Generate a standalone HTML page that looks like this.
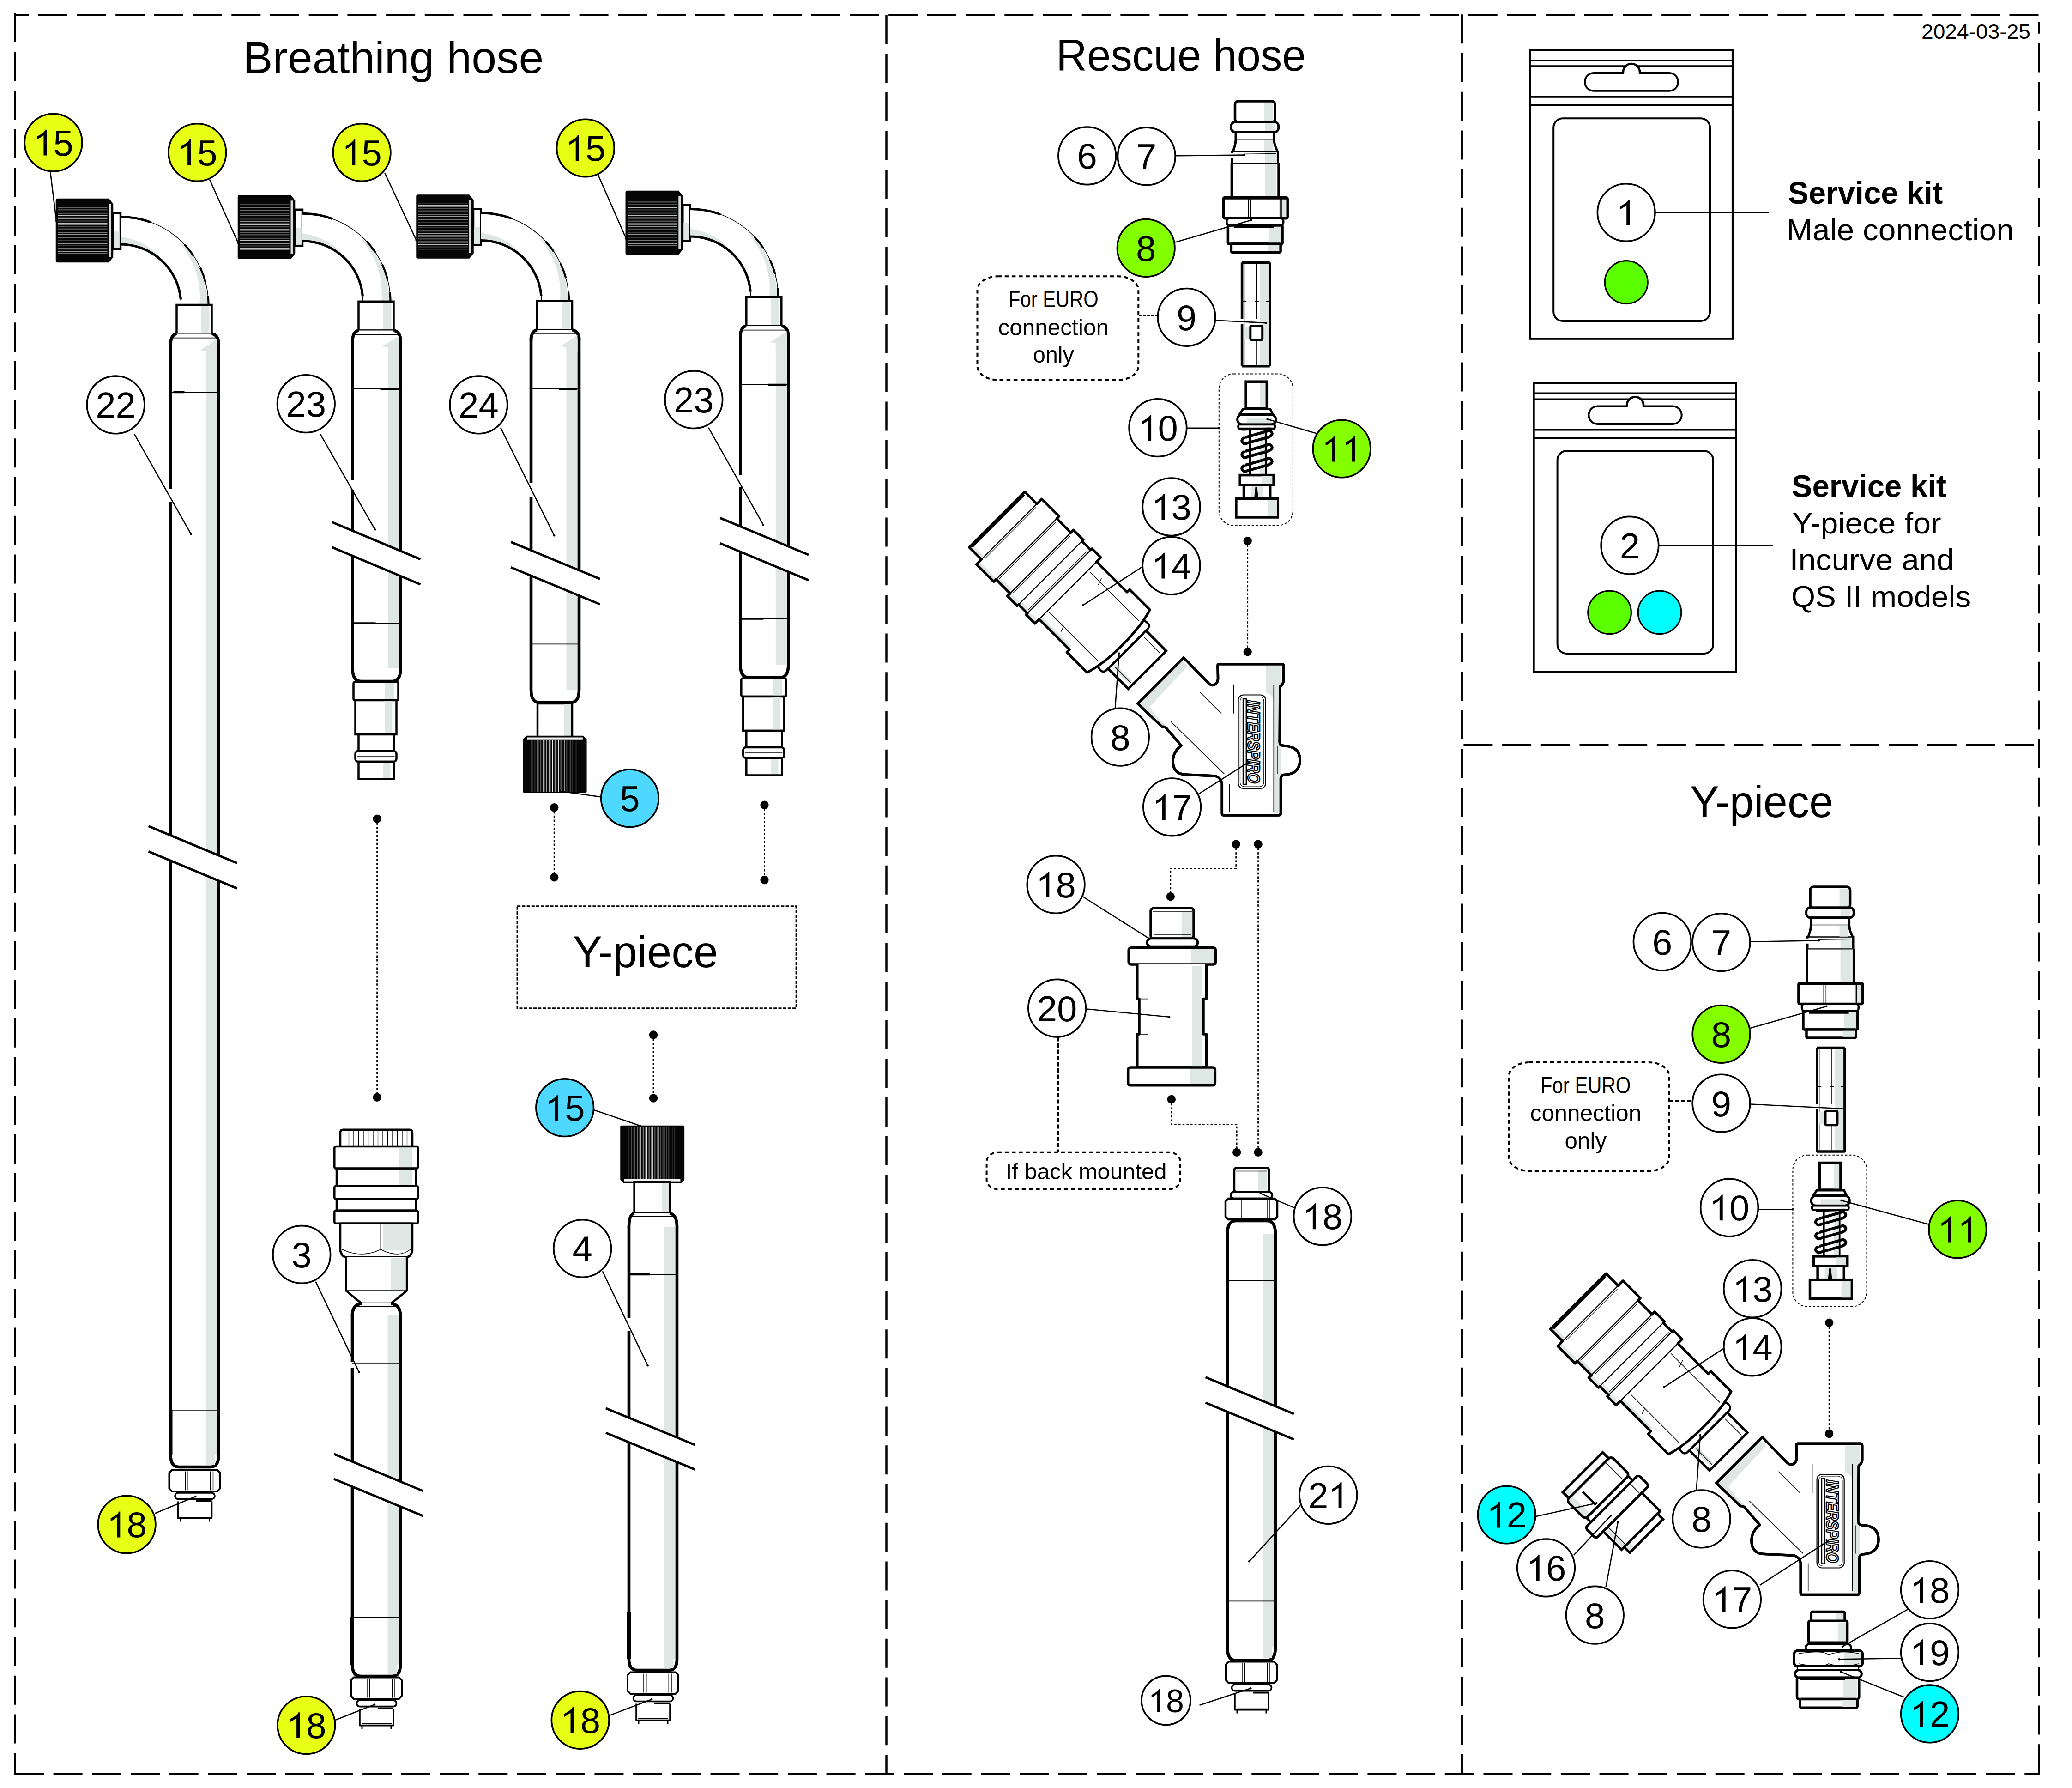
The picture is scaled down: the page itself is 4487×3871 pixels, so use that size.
<!DOCTYPE html>
<html><head><meta charset="utf-8"><style>
html,body{margin:0;padding:0;background:#fff;}
svg{display:block;}
text{font-family:"Liberation Sans",sans-serif;}
</style></head><body>
<svg xmlns="http://www.w3.org/2000/svg" width="4487" height="3871" viewBox="0 0 4487 3871">
<rect width="4487" height="3871" fill="#fff"/>
<line x1="32.3" y1="28.6" x2="32.3" y2="3842.5" stroke="#000" stroke-width="4.5" stroke-dasharray="63 20.7" stroke-dashoffset="0"/>
<line x1="30" y1="32.5" x2="4417.8" y2="32.5" stroke="#000" stroke-width="4.5" stroke-dasharray="63 20.7" stroke-dashoffset="30.9"/>
<line x1="4415.4" y1="47" x2="4415.4" y2="3842.5" stroke="#000" stroke-width="4.5" stroke-dasharray="63 20.7" stroke-dashoffset="37.2"/>
<line x1="30" y1="3840.3" x2="4417.8" y2="3840.3" stroke="#000" stroke-width="4.5" stroke-dasharray="63 20.7" stroke-dashoffset="-1.9"/>
<line x1="1919.5" y1="32.4" x2="1919.5" y2="3842.5" stroke="#000" stroke-width="4.5" stroke-dasharray="63 20.7" stroke-dashoffset="0"/>
<line x1="3165.7" y1="31.3" x2="3165.7" y2="3842.5" stroke="#000" stroke-width="4.5" stroke-dasharray="63 20.7" stroke-dashoffset="0"/>
<line x1="3169.4" y1="1613.1" x2="4405" y2="1613.1" stroke="#000" stroke-width="4.5" stroke-dasharray="63 20.7" stroke-dashoffset="0"/>
<text x="3872" y="440.7" font-size="67.6" text-anchor="start" font-weight="bold" font-family="Liberation Sans" textLength="335.2" lengthAdjust="spacingAndGlyphs" >Service kit</text>
<text x="3868.8" y="519.5" font-size="65" text-anchor="start" font-weight="normal" font-family="Liberation Sans" textLength="492.1" lengthAdjust="spacingAndGlyphs" >Male connection</text>
<text x="3879.8" y="1076.2" font-size="67.6" text-anchor="start" font-weight="bold" font-family="Liberation Sans" textLength="335.3" lengthAdjust="spacingAndGlyphs" >Service kit</text>
<text x="3880.8" y="1154.9" font-size="65" text-anchor="start" font-weight="normal" font-family="Liberation Sans" textLength="322.9" lengthAdjust="spacingAndGlyphs" >Y-piece for</text>
<text x="3875.5" y="1234.3" font-size="65" text-anchor="start" font-weight="normal" font-family="Liberation Sans" textLength="356.3" lengthAdjust="spacingAndGlyphs" >Incurve and</text>
<text x="3878.7" y="1314.3" font-size="65" text-anchor="start" font-weight="normal" font-family="Liberation Sans" textLength="389.6" lengthAdjust="spacingAndGlyphs" >QS II models</text>
<path d="M816.6 1772.6 L816.6 2375.8" fill="none" stroke="#000" stroke-width="2.8" stroke-dasharray="4.5 4.2"/>
<circle cx="816.6" cy="1772.6" r="9.2" fill="#000"/>
<circle cx="816.6" cy="2375.8" r="9.2" fill="#000"/>
<path d="M1200.2 1748.3 L1200.2 1899.3" fill="none" stroke="#000" stroke-width="2.8" stroke-dasharray="4.5 4.2"/>
<circle cx="1200.2" cy="1748.3" r="9.2" fill="#000"/>
<circle cx="1200.2" cy="1899.3" r="9.2" fill="#000"/>
<path d="M1655.5 1742.7 L1655.5 1905" fill="none" stroke="#000" stroke-width="2.8" stroke-dasharray="4.5 4.2"/>
<circle cx="1655.5" cy="1742.7" r="9.2" fill="#000"/>
<circle cx="1655.5" cy="1905" r="9.2" fill="#000"/>
<path d="M1415 2240.5 L1415 2377.5" fill="none" stroke="#000" stroke-width="2.8" stroke-dasharray="4.5 4.2"/>
<circle cx="1415" cy="2240.5" r="9.2" fill="#000"/>
<circle cx="1415" cy="2377.5" r="9.2" fill="#000"/>
<path d="M2701.7 1171.3 L2701.7 1411" fill="none" stroke="#000" stroke-width="2.8" stroke-dasharray="4.5 4.2"/>
<circle cx="2701.7" cy="1171.3" r="9.2" fill="#000"/>
<circle cx="2701.7" cy="1411" r="9.2" fill="#000"/>
<path d="M3961.2 2863.7 L3961.2 3104" fill="none" stroke="#000" stroke-width="2.8" stroke-dasharray="4.5 4.2"/>
<circle cx="3961.2" cy="2863.7" r="9.2" fill="#000"/>
<circle cx="3961.2" cy="3104" r="9.2" fill="#000"/>
<path d="M2676.7 1827.8 L2676.7 1880.7 L2534.8 1880.7 L2534.8 1941" fill="none" stroke="#000" stroke-width="2.8" stroke-dasharray="4.5 4.2"/>
<circle cx="2676.7" cy="1827.8" r="9.2" fill="#000"/>
<circle cx="2534.8" cy="1941" r="9.2" fill="#000"/>
<path d="M2724.6 1827.8 L2724.6 2494.8" fill="none" stroke="#000" stroke-width="2.8" stroke-dasharray="4.5 4.2"/>
<circle cx="2724.6" cy="1827.8" r="9.2" fill="#000"/>
<circle cx="2724.6" cy="2494.8" r="9.2" fill="#000"/>
<path d="M2536.8 2380 L2536.8 2434.4 L2678.2 2434.4 L2678.2 2494.8" fill="none" stroke="#000" stroke-width="2.8" stroke-dasharray="4.5 4.2"/>
<circle cx="2536.8" cy="2380" r="9.2" fill="#000"/>
<circle cx="2678.2" cy="2494.8" r="9.2" fill="#000"/>
<path d="M2466 682.6 L2508 682.6" fill="none" stroke="#000" stroke-width="2.8" stroke-dasharray="6 3"/>
<path d="M3615 2383.8 L3665 2383.8" fill="none" stroke="#000" stroke-width="4" stroke-dasharray="9 4"/>
<path d="M2291.6 2245.6 L2291.6 2494.8" fill="none" stroke="#000" stroke-width="3.8" stroke-dasharray="9 4.5"/>
<rect x="1120.2" y="1962" width="604.1" height="220.9" rx="0" fill="none" stroke="#000" stroke-width="3.3" stroke-dasharray="7 3.2"/>
<rect x="2116.5" y="598.3" width="348.8" height="224.2" rx="44" fill="none" stroke="#000" stroke-width="4" ry="30" stroke-dasharray="8.5 6.7"/>
<rect x="3267.4" y="2300" width="347.5" height="235.2" rx="44" fill="none" stroke="#000" stroke-width="4" ry="30" stroke-dasharray="8.5 6.7"/>
<rect x="2136.6" y="2494.8" width="419.3" height="79.6" rx="24" fill="none" stroke="#000" stroke-width="4" ry="20" stroke-dasharray="8.5 6.7"/>
<rect x="2639.8" y="809.4" width="160.1" height="328.2" rx="32" fill="none" stroke="#000" stroke-width="2" stroke-dasharray="5 4"/>
<rect x="3882.4" y="2500.7" width="160.1" height="328.2" rx="32" fill="none" stroke="#000" stroke-width="2" stroke-dasharray="5 4"/>
<text x="526" y="158" font-size="97" text-anchor="start" font-weight="normal" font-family="Liberation Sans" textLength="651.3" lengthAdjust="spacingAndGlyphs" >Breathing hose</text>
<text x="2287" y="152.6" font-size="97" text-anchor="start" font-weight="normal" font-family="Liberation Sans" textLength="541" lengthAdjust="spacingAndGlyphs" >Rescue hose</text>
<text x="1240.5" y="2094" font-size="97" text-anchor="start" font-weight="normal" font-family="Liberation Sans" textLength="314.4" lengthAdjust="spacingAndGlyphs" >Y-piece</text>
<text x="3660" y="1769" font-size="97" text-anchor="start" font-weight="normal" font-family="Liberation Sans" textLength="310.2" lengthAdjust="spacingAndGlyphs" >Y-piece</text>
<text x="4161" y="83.9" font-size="45" text-anchor="start" font-weight="normal" font-family="Liberation Sans" textLength="236" lengthAdjust="spacingAndGlyphs" >2024-03-25</text>
<text x="2184.1" y="665.2" font-size="50" text-anchor="start" font-weight="normal" font-family="Liberation Sans" textLength="194.6" lengthAdjust="spacingAndGlyphs" >For EURO</text>
<text x="2161.4" y="725.7" font-size="50" text-anchor="start" font-weight="normal" font-family="Liberation Sans" textLength="239.6" lengthAdjust="spacingAndGlyphs" >connection</text>
<text x="2237" y="785.3" font-size="50" text-anchor="start" font-weight="normal" font-family="Liberation Sans" textLength="88.8" lengthAdjust="spacingAndGlyphs" >only</text>
<text x="3336" y="2367.3" font-size="50" text-anchor="start" font-weight="normal" font-family="Liberation Sans" textLength="195.3" lengthAdjust="spacingAndGlyphs" >For EURO</text>
<text x="3313.6" y="2427.3" font-size="50" text-anchor="start" font-weight="normal" font-family="Liberation Sans" textLength="240.8" lengthAdjust="spacingAndGlyphs" >connection</text>
<text x="3388.6" y="2487.4" font-size="50" text-anchor="start" font-weight="normal" font-family="Liberation Sans" textLength="90.7" lengthAdjust="spacingAndGlyphs" >only</text>
<text x="2177.7" y="2552.7" font-size="49" text-anchor="start" font-weight="normal" font-family="Liberation Sans" textLength="348.9" lengthAdjust="spacingAndGlyphs" >If back mounted</text>
<rect x="369.5" y="738" width="104" height="2414" rx="0" fill="#fff" stroke="#000" stroke-width="0" />
<rect x="446" y="759" width="24" height="2393" rx="0" fill="#dfe7e4" stroke="#000" stroke-width="0" />
<line x1="369.5" y1="738" x2="369.5" y2="1058.7" stroke="#000" stroke-width="6.6" />
<line x1="369.5" y1="1086.7" x2="369.5" y2="3152" stroke="#000" stroke-width="6.6" />
<line x1="473.5" y1="738" x2="473.5" y2="3152" stroke="#000" stroke-width="6.6" />
<path d="M121.5 433.5 Q121.5 430.5 124.5 430.5 L235.5 430.5 L244.5 441.5 L244.5 556.5 L235.5 567.5 L124.5 567.5 Q121.5 567.5 121.5 564.5 Z" fill="#050505" stroke="#000" stroke-width="1.5" stroke-linejoin="round" />
<line x1="125.5" y1="449.5" x2="232.5" y2="449.5" stroke="#fff" stroke-opacity="0.375" stroke-width="1"/><line x1="125.5" y1="452.9" x2="232.5" y2="452.9" stroke="#fff" stroke-opacity="0.75" stroke-width="1"/><line x1="125.5" y1="456.3" x2="232.5" y2="456.3" stroke="#fff" stroke-opacity="0.75" stroke-width="1"/><line x1="125.5" y1="459.7" x2="232.5" y2="459.7" stroke="#fff" stroke-opacity="0.375" stroke-width="1"/><line x1="125.5" y1="463.1" x2="232.5" y2="463.1" stroke="#fff" stroke-opacity="0.75" stroke-width="1"/><line x1="125.5" y1="466.5" x2="232.5" y2="466.5" stroke="#fff" stroke-opacity="0.75" stroke-width="1"/><line x1="125.5" y1="469.9" x2="232.5" y2="469.9" stroke="#fff" stroke-opacity="0.375" stroke-width="1"/><line x1="125.5" y1="473.3" x2="232.5" y2="473.3" stroke="#fff" stroke-opacity="0.75" stroke-width="1"/><line x1="125.5" y1="476.7" x2="232.5" y2="476.7" stroke="#fff" stroke-opacity="0.75" stroke-width="1"/><line x1="125.5" y1="480.1" x2="232.5" y2="480.1" stroke="#fff" stroke-opacity="0.375" stroke-width="1"/><line x1="125.5" y1="483.5" x2="232.5" y2="483.5" stroke="#fff" stroke-opacity="0.75" stroke-width="1"/><line x1="125.5" y1="486.9" x2="232.5" y2="486.9" stroke="#fff" stroke-opacity="0.75" stroke-width="1"/><line x1="125.5" y1="490.3" x2="232.5" y2="490.3" stroke="#fff" stroke-opacity="0.375" stroke-width="1"/><line x1="125.5" y1="493.7" x2="232.5" y2="493.7" stroke="#fff" stroke-opacity="0.75" stroke-width="1"/><line x1="125.5" y1="497.1" x2="232.5" y2="497.1" stroke="#fff" stroke-opacity="0.75" stroke-width="1"/><line x1="125.5" y1="500.5" x2="232.5" y2="500.5" stroke="#fff" stroke-opacity="0.375" stroke-width="1"/><line x1="125.5" y1="503.9" x2="232.5" y2="503.9" stroke="#fff" stroke-opacity="0.75" stroke-width="1"/><line x1="125.5" y1="507.3" x2="232.5" y2="507.3" stroke="#fff" stroke-opacity="0.75" stroke-width="1"/><line x1="125.5" y1="510.7" x2="232.5" y2="510.7" stroke="#fff" stroke-opacity="0.375" stroke-width="1"/><line x1="125.5" y1="514.1" x2="232.5" y2="514.1" stroke="#fff" stroke-opacity="0.75" stroke-width="1"/><line x1="125.5" y1="517.5" x2="232.5" y2="517.5" stroke="#fff" stroke-opacity="0.75" stroke-width="1"/><line x1="125.5" y1="520.9" x2="232.5" y2="520.9" stroke="#fff" stroke-opacity="0.375" stroke-width="1"/><line x1="125.5" y1="524.3" x2="232.5" y2="524.3" stroke="#fff" stroke-opacity="0.75" stroke-width="1"/><line x1="125.5" y1="527.7" x2="232.5" y2="527.7" stroke="#fff" stroke-opacity="0.75" stroke-width="1"/><line x1="125.5" y1="531.1" x2="232.5" y2="531.1" stroke="#fff" stroke-opacity="0.375" stroke-width="1"/><line x1="125.5" y1="534.5" x2="232.5" y2="534.5" stroke="#fff" stroke-opacity="0.75" stroke-width="1"/><line x1="125.5" y1="537.9" x2="232.5" y2="537.9" stroke="#fff" stroke-opacity="0.75" stroke-width="1"/><line x1="125.5" y1="541.3" x2="232.5" y2="541.3" stroke="#fff" stroke-opacity="0.375" stroke-width="1"/><line x1="125.5" y1="544.7" x2="232.5" y2="544.7" stroke="#fff" stroke-opacity="0.75" stroke-width="1"/><line x1="125.5" y1="548.1" x2="232.5" y2="548.1" stroke="#fff" stroke-opacity="0.75" stroke-width="1"/>
<rect x="235.5" y="441.5" width="5" height="115" rx="0" fill="#d8dcdc" stroke="#000" stroke-width="0" />
<rect x="244.5" y="461" width="16.5" height="78" rx="0" fill="#fff" stroke="#000" stroke-width="4.5" />
<rect x="246.5" y="500" width="12" height="37" rx="0" fill="#dfe7e4" stroke="#000" stroke-width="0" />
<path d="M261 469.5 A190.5 190.5 0 0 1 451.5 660 L392 660 A131 131 0 0 0 261 529 Z" fill="#fff" stroke="none" stroke-width="0" stroke-linejoin="round" />
<path d="M391.6 524.8 L395.2 528.3 L398.6 531.9 L402 535.7 L405.3 539.5 L408.5 543.4 L411.5 547.4 L414.5 551.5 L417.3 555.6 L420.1 559.8 L422.7 564.1 L425.2 568.5 L427.6 572.9 L429.9 577.4 L432 581.9 L434.1 586.5 L436 591.2 L437.7 595.9 L439.4 600.7 L440.9 605.5 L442.3 610.3 L443.6 615.2 L444.7 620.1 L445.7 625 L446.6 629.9 L447.3 634.9 L447.9 639.9 L448.4 644.9 L448.7 649.9 L448.9 655 L449 660 L432 660 L432.4 655.4 L432.7 650.8 L432.8 646.2 L432.9 641.5 L432.8 636.9 L432.6 632.2 L432.2 627.5 L431.7 622.9 L431.1 618.2 L430.4 613.5 L429.6 608.9 L428.6 604.3 L427.5 599.6 L426.2 595 L424.8 590.4 L423.4 585.9 L421.7 581.4 L420 576.9 L418.1 572.4 L416.1 568 L414 563.7 L411.7 559.3 L409.4 555.1 L406.9 550.9 L404.3 546.7 L401.6 542.6 L398.7 538.6 L395.8 534.6 L392.7 530.7 L389.5 526.9 Z" fill="#dfe7e4" stroke="none" stroke-width="0" stroke-linejoin="round" />
<path d="M261 526.5 L264.1 526.5 L267.2 526.6 L270.3 526.8 L273.4 527.1 L276.5 527.4 L279.6 527.8 L282.7 528.3 L285.7 528.8 L288.8 529.4 L291.8 530.1 L294.8 530.9 L297.8 531.7 L300.8 532.6 L303.7 533.5 L306.7 534.6 L309.6 535.6 L312.4 536.8 L315.3 538 L318.1 539.3 L320.9 540.7 L323.7 542.1 L326.4 543.6 L329.1 545.2 L331.7 546.8 L334.4 548.5 L336.9 550.2 L339.5 552 L342 553.9 L344.4 555.8 L346.8 557.7 L347.5 557 L345.3 554.6 L343.1 552.4 L340.8 550.1 L338.5 548 L336.1 545.8 L333.7 543.7 L331.1 541.7 L328.6 539.7 L326 537.8 L323.3 535.9 L320.6 534.1 L317.8 532.4 L315 530.7 L312.1 529.1 L309.2 527.5 L306.3 526 L303.3 524.6 L300.2 523.2 L297.1 521.9 L294 520.7 L290.9 519.5 L287.7 518.5 L284.4 517.4 L281.2 516.5 L277.9 515.6 L274.5 514.9 L271.2 514.2 L267.8 513.5 L264.4 513 L261 512.5 Z" fill="#dfe7e4" stroke="none" stroke-width="0" stroke-linejoin="round" />
<path d="M261 469.5 A190.5 190.5 0 0 1 451.5 660" fill="none" stroke="#000" stroke-width="1.6" stroke-linejoin="round" />
<path d="M261 469.5 A190.5 190.5 0 0 1 326.2 481" fill="none" stroke="#000" stroke-width="5" stroke-linejoin="round" />
<path d="M400.3 530.1 A190.5 190.5 0 0 1 418.9 553.5" fill="none" stroke="#000" stroke-width="4.2" stroke-linejoin="round" />
<path d="M433.7 579.5 A190.5 190.5 0 0 1 445 610.7" fill="none" stroke="#000" stroke-width="4.2" stroke-linejoin="round" />
<path d="M450.5 640.1 A190.5 190.5 0 0 1 451.5 660" fill="none" stroke="#000" stroke-width="4.2" stroke-linejoin="round" />
<path d="M261 529 A131 131 0 0 1 391.5 648.6" fill="none" stroke="#000" stroke-width="5.2" stroke-linejoin="round" />
<path d="M391.5 648.6 A131 131 0 0 1 392 660" fill="none" stroke="#000" stroke-width="1.6" stroke-linejoin="round" />
<rect x="382.5" y="660" width="76" height="62.6" rx="0" fill="#fff" stroke="#000" stroke-width="4.5" />
<rect x="435.5" y="662.5" width="18" height="57.6" rx="0" fill="#dfe7e4" stroke="#000" stroke-width="0" />
<path d="M382.5 722.6 Q369.5 725 369.5 740 L473.5 740 Q473.5 725 458.5 722.6 Z" fill="#fff" stroke="none" stroke-width="0" stroke-linejoin="round" />
<path d="M382.5 722.6 Q369.5 725 369.5 746" fill="none" stroke="#000" stroke-width="6.6" stroke-linejoin="round" />
<path d="M458.5 722.6 Q473.5 725 473.5 746" fill="none" stroke="#000" stroke-width="6.6" stroke-linejoin="round" />
<line x1="373.5" y1="731.6" x2="469.5" y2="731.6" stroke="#000" stroke-width="1.8" />
<path d="M433.5 758 L470 734 L470 770 L446 770 L446 760 Z" fill="#dfe7e4" stroke="none" stroke-width="0" stroke-linejoin="round" />
<line x1="369.5" y1="849" x2="473.5" y2="849" stroke="#000" stroke-width="1.8" />
<line x1="375.5" y1="849" x2="399.5" y2="849" stroke="#000" stroke-width="4.5" />
<path d="M321.6 1788.6 L513.4 1868.6 L513.4 1923.4 L321.6 1843.4 Z" fill="#fff" stroke="none" stroke-width="0" stroke-linejoin="round" />
<line x1="321.6" y1="1788.6" x2="513.4" y2="1868.6" stroke="#000" stroke-width="5" />
<line x1="321.6" y1="1843.4" x2="513.4" y2="1923.4" stroke="#000" stroke-width="5" />
<line x1="369.5" y1="3052.8" x2="473.5" y2="3052.8" stroke="#000" stroke-width="1.8" />
<line x1="369.5" y1="3052.8" x2="369.5" y2="3150" stroke="#000" stroke-width="8" />
<path d="M369.5 3150 Q369.5 3176 387.5 3176 L455.5 3176 Q473.5 3176 473.5 3150" fill="#fff" stroke="#000" stroke-width="6.6" stroke-linejoin="round" />
<rect x="446" y="3148" width="20" height="23" rx="0" fill="#dfe7e4" stroke="#000" stroke-width="0" />
<path d="M366.5 3188.5 L372.5 3182.5 L470.5 3182.5 L476.5 3188.5 L476.5 3222.5 L470.5 3229 L372.5 3229 L366.5 3222.5 Z" fill="#fff" stroke="#000" stroke-width="4" stroke-linejoin="round" />
<line x1="401.5" y1="3185.5" x2="401.5" y2="3226.5" stroke="#000" stroke-width="1.5" />
<line x1="407.2" y1="3185.5" x2="407.2" y2="3226.5" stroke="#000" stroke-width="1.5" />
<line x1="455.8" y1="3185.5" x2="455.8" y2="3226.5" stroke="#000" stroke-width="1.5" />
<line x1="461.5" y1="3185.5" x2="461.5" y2="3226.5" stroke="#000" stroke-width="1.5" />
<rect x="379" y="3232" width="86" height="13.5" rx="6.5" fill="#fff" stroke="#000" stroke-width="3.6" />
<path d="M385.5 3250.5 L385.5 3286.5 L458.5 3286.5 L458.5 3250.5" fill="none" stroke="#000" stroke-width="3.6" stroke-linejoin="round" />
<line x1="389.5" y1="3282.5" x2="454.5" y2="3282.5" stroke="#000" stroke-width="1.2" />
<line x1="424.5" y1="3249.5" x2="458.5" y2="3249.5" stroke="#000" stroke-width="3.6" />
<line x1="390.5" y1="3286.5" x2="390.5" y2="3294.5" stroke="#000" stroke-width="3" />
<line x1="453.5" y1="3286.5" x2="453.5" y2="3294.5" stroke="#000" stroke-width="3" />
<rect x="763.5" y="731" width="104" height="717" rx="0" fill="#fff" stroke="#000" stroke-width="0" />
<rect x="840" y="752" width="24" height="696" rx="0" fill="#dfe7e4" stroke="#000" stroke-width="0" />
<line x1="763.5" y1="731" x2="763.5" y2="1040" stroke="#000" stroke-width="6.6" />
<line x1="763.5" y1="1060" x2="763.5" y2="1448" stroke="#000" stroke-width="6.6" />
<line x1="867.5" y1="731" x2="867.5" y2="1448" stroke="#000" stroke-width="6.6" />
<path d="M515.5 426.3 Q515.5 423.3 518.5 423.3 L629.5 423.3 L638.5 434.3 L638.5 549.3 L629.5 560.3 L518.5 560.3 Q515.5 560.3 515.5 557.3 Z" fill="#050505" stroke="#000" stroke-width="1.5" stroke-linejoin="round" />
<line x1="519.5" y1="442.3" x2="626.5" y2="442.3" stroke="#fff" stroke-opacity="0.375" stroke-width="1"/><line x1="519.5" y1="445.7" x2="626.5" y2="445.7" stroke="#fff" stroke-opacity="0.75" stroke-width="1"/><line x1="519.5" y1="449.1" x2="626.5" y2="449.1" stroke="#fff" stroke-opacity="0.75" stroke-width="1"/><line x1="519.5" y1="452.5" x2="626.5" y2="452.5" stroke="#fff" stroke-opacity="0.375" stroke-width="1"/><line x1="519.5" y1="455.9" x2="626.5" y2="455.9" stroke="#fff" stroke-opacity="0.75" stroke-width="1"/><line x1="519.5" y1="459.3" x2="626.5" y2="459.3" stroke="#fff" stroke-opacity="0.75" stroke-width="1"/><line x1="519.5" y1="462.7" x2="626.5" y2="462.7" stroke="#fff" stroke-opacity="0.375" stroke-width="1"/><line x1="519.5" y1="466.1" x2="626.5" y2="466.1" stroke="#fff" stroke-opacity="0.75" stroke-width="1"/><line x1="519.5" y1="469.5" x2="626.5" y2="469.5" stroke="#fff" stroke-opacity="0.75" stroke-width="1"/><line x1="519.5" y1="472.9" x2="626.5" y2="472.9" stroke="#fff" stroke-opacity="0.375" stroke-width="1"/><line x1="519.5" y1="476.3" x2="626.5" y2="476.3" stroke="#fff" stroke-opacity="0.75" stroke-width="1"/><line x1="519.5" y1="479.7" x2="626.5" y2="479.7" stroke="#fff" stroke-opacity="0.75" stroke-width="1"/><line x1="519.5" y1="483.1" x2="626.5" y2="483.1" stroke="#fff" stroke-opacity="0.375" stroke-width="1"/><line x1="519.5" y1="486.5" x2="626.5" y2="486.5" stroke="#fff" stroke-opacity="0.75" stroke-width="1"/><line x1="519.5" y1="489.9" x2="626.5" y2="489.9" stroke="#fff" stroke-opacity="0.75" stroke-width="1"/><line x1="519.5" y1="493.3" x2="626.5" y2="493.3" stroke="#fff" stroke-opacity="0.375" stroke-width="1"/><line x1="519.5" y1="496.7" x2="626.5" y2="496.7" stroke="#fff" stroke-opacity="0.75" stroke-width="1"/><line x1="519.5" y1="500.1" x2="626.5" y2="500.1" stroke="#fff" stroke-opacity="0.75" stroke-width="1"/><line x1="519.5" y1="503.5" x2="626.5" y2="503.5" stroke="#fff" stroke-opacity="0.375" stroke-width="1"/><line x1="519.5" y1="506.9" x2="626.5" y2="506.9" stroke="#fff" stroke-opacity="0.75" stroke-width="1"/><line x1="519.5" y1="510.3" x2="626.5" y2="510.3" stroke="#fff" stroke-opacity="0.75" stroke-width="1"/><line x1="519.5" y1="513.7" x2="626.5" y2="513.7" stroke="#fff" stroke-opacity="0.375" stroke-width="1"/><line x1="519.5" y1="517.1" x2="626.5" y2="517.1" stroke="#fff" stroke-opacity="0.75" stroke-width="1"/><line x1="519.5" y1="520.5" x2="626.5" y2="520.5" stroke="#fff" stroke-opacity="0.75" stroke-width="1"/><line x1="519.5" y1="523.9" x2="626.5" y2="523.9" stroke="#fff" stroke-opacity="0.375" stroke-width="1"/><line x1="519.5" y1="527.3" x2="626.5" y2="527.3" stroke="#fff" stroke-opacity="0.75" stroke-width="1"/><line x1="519.5" y1="530.7" x2="626.5" y2="530.7" stroke="#fff" stroke-opacity="0.75" stroke-width="1"/><line x1="519.5" y1="534.1" x2="626.5" y2="534.1" stroke="#fff" stroke-opacity="0.375" stroke-width="1"/><line x1="519.5" y1="537.5" x2="626.5" y2="537.5" stroke="#fff" stroke-opacity="0.75" stroke-width="1"/><line x1="519.5" y1="540.9" x2="626.5" y2="540.9" stroke="#fff" stroke-opacity="0.75" stroke-width="1"/>
<rect x="629.5" y="434.3" width="5" height="115" rx="0" fill="#d8dcdc" stroke="#000" stroke-width="0" />
<rect x="638.5" y="453.8" width="16.5" height="78" rx="0" fill="#fff" stroke="#000" stroke-width="4.5" />
<rect x="640.5" y="492.8" width="12" height="37" rx="0" fill="#dfe7e4" stroke="#000" stroke-width="0" />
<path d="M655 462.3 A190.5 190.5 0 0 1 845.5 652.8 L786 652.8 A131 131 0 0 0 655 521.8 Z" fill="#fff" stroke="none" stroke-width="0" stroke-linejoin="round" />
<path d="M785.6 517.6 L789.2 521.1 L792.6 524.7 L796 528.5 L799.3 532.3 L802.5 536.2 L805.5 540.2 L808.5 544.3 L811.3 548.4 L814.1 552.6 L816.7 556.9 L819.2 561.3 L821.6 565.7 L823.9 570.2 L826 574.7 L828.1 579.3 L830 584 L831.7 588.7 L833.4 593.5 L834.9 598.3 L836.3 603.1 L837.6 608 L838.7 612.9 L839.7 617.8 L840.6 622.7 L841.3 627.7 L841.9 632.7 L842.4 637.7 L842.7 642.7 L842.9 647.8 L843 652.8 L826 652.8 L826.4 648.2 L826.7 643.6 L826.8 639 L826.9 634.3 L826.8 629.7 L826.6 625 L826.2 620.3 L825.7 615.7 L825.1 611 L824.4 606.3 L823.6 601.7 L822.6 597.1 L821.5 592.4 L820.2 587.8 L818.8 583.2 L817.4 578.7 L815.7 574.2 L814 569.7 L812.1 565.2 L810.1 560.8 L808 556.5 L805.7 552.1 L803.4 547.9 L800.9 543.7 L798.3 539.5 L795.6 535.4 L792.7 531.4 L789.8 527.4 L786.7 523.5 L783.5 519.7 Z" fill="#dfe7e4" stroke="none" stroke-width="0" stroke-linejoin="round" />
<path d="M655 519.3 L658.1 519.3 L661.2 519.4 L664.3 519.6 L667.4 519.9 L670.5 520.2 L673.6 520.6 L676.7 521.1 L679.7 521.6 L682.8 522.2 L685.8 522.9 L688.8 523.7 L691.8 524.5 L694.8 525.4 L697.7 526.3 L700.7 527.4 L703.6 528.4 L706.4 529.6 L709.3 530.8 L712.1 532.1 L714.9 533.5 L717.7 534.9 L720.4 536.4 L723.1 538 L725.7 539.6 L728.4 541.3 L730.9 543 L733.5 544.8 L736 546.7 L738.4 548.6 L740.8 550.5 L741.5 549.8 L739.3 547.4 L737.1 545.2 L734.8 542.9 L732.5 540.8 L730.1 538.6 L727.7 536.5 L725.1 534.5 L722.6 532.5 L720 530.6 L717.3 528.7 L714.6 526.9 L711.8 525.2 L709 523.5 L706.1 521.9 L703.2 520.3 L700.3 518.8 L697.3 517.4 L694.2 516 L691.1 514.7 L688 513.5 L684.9 512.3 L681.7 511.3 L678.4 510.2 L675.2 509.3 L671.9 508.4 L668.5 507.7 L665.2 507 L661.8 506.3 L658.4 505.8 L655 505.3 Z" fill="#dfe7e4" stroke="none" stroke-width="0" stroke-linejoin="round" />
<path d="M655 462.3 A190.5 190.5 0 0 1 845.5 652.8" fill="none" stroke="#000" stroke-width="1.6" stroke-linejoin="round" />
<path d="M655 462.3 A190.5 190.5 0 0 1 720.2 473.8" fill="none" stroke="#000" stroke-width="5" stroke-linejoin="round" />
<path d="M794.3 522.9 A190.5 190.5 0 0 1 812.9 546.3" fill="none" stroke="#000" stroke-width="4.2" stroke-linejoin="round" />
<path d="M827.7 572.3 A190.5 190.5 0 0 1 839 603.5" fill="none" stroke="#000" stroke-width="4.2" stroke-linejoin="round" />
<path d="M844.5 632.9 A190.5 190.5 0 0 1 845.5 652.8" fill="none" stroke="#000" stroke-width="4.2" stroke-linejoin="round" />
<path d="M655 521.8 A131 131 0 0 1 785.5 641.4" fill="none" stroke="#000" stroke-width="5.2" stroke-linejoin="round" />
<path d="M785.5 641.4 A131 131 0 0 1 786 652.8" fill="none" stroke="#000" stroke-width="1.6" stroke-linejoin="round" />
<rect x="776.5" y="652.8" width="76" height="62.6" rx="0" fill="#fff" stroke="#000" stroke-width="4.5" />
<rect x="829.5" y="655.3" width="18" height="57.6" rx="0" fill="#dfe7e4" stroke="#000" stroke-width="0" />
<path d="M776.5 715.4 Q763.5 717.8 763.5 732.8 L867.5 732.8 Q867.5 717.8 852.5 715.4 Z" fill="#fff" stroke="none" stroke-width="0" stroke-linejoin="round" />
<path d="M776.5 715.4 Q763.5 717.8 763.5 738.8" fill="none" stroke="#000" stroke-width="6.6" stroke-linejoin="round" />
<path d="M852.5 715.4 Q867.5 717.8 867.5 738.8" fill="none" stroke="#000" stroke-width="6.6" stroke-linejoin="round" />
<line x1="767.5" y1="724.4" x2="863.5" y2="724.4" stroke="#000" stroke-width="1.8" />
<path d="M827.5 750.8 L864 726.8 L864 762.8 L840 762.8 L840 752.8 Z" fill="#dfe7e4" stroke="none" stroke-width="0" stroke-linejoin="round" />
<line x1="763.5" y1="841.7" x2="867.5" y2="841.7" stroke="#000" stroke-width="1.8" />
<line x1="823.5" y1="841.7" x2="863.5" y2="841.7" stroke="#000" stroke-width="4.5" />
<path d="M718.7 1130.3 L910.5 1210.9 L910.5 1265.2 L718.7 1184.6 Z" fill="#fff" stroke="none" stroke-width="0" stroke-linejoin="round" />
<line x1="718.7" y1="1130.3" x2="910.5" y2="1210.9" stroke="#000" stroke-width="5" />
<line x1="718.7" y1="1184.6" x2="910.5" y2="1265.2" stroke="#000" stroke-width="5" />
<line x1="763.5" y1="1349.6" x2="867.5" y2="1349.6" stroke="#000" stroke-width="1.8" />
<line x1="763.5" y1="1349.6" x2="813.5" y2="1349.6" stroke="#000" stroke-width="4.5" />
<path d="M763.5 1447 Q763.5 1475 781.5 1475 L849.5 1475 Q867.5 1475 867.5 1447" fill="#fff" stroke="#000" stroke-width="6.6" stroke-linejoin="round" />
<rect x="765.5" y="1476.5" width="97" height="39.5" rx="3" fill="#fff" stroke="#000" stroke-width="4.5" />
<rect x="833.5" y="1479" width="20" height="35" rx="0" fill="#dfe7e4" stroke="#000" stroke-width="0" />
<rect x="769.5" y="1516" width="89" height="74" rx="0" fill="#fff" stroke="#000" stroke-width="4.5" />
<rect x="833.5" y="1518" width="16" height="70" rx="0" fill="#dfe7e4" stroke="#000" stroke-width="0" />
<rect x="776.5" y="1590" width="77" height="36" rx="0" fill="#fff" stroke="#000" stroke-width="4.5" />
<rect x="769.5" y="1626" width="89" height="23" rx="6" fill="#fff" stroke="#000" stroke-width="4.5" />
<line x1="773.5" y1="1637" x2="854.5" y2="1637" stroke="#000" stroke-width="1.5" />
<rect x="776.5" y="1649" width="77" height="37.5" rx="0" fill="#fff" stroke="#000" stroke-width="4.5" />
<rect x="829.5" y="1651" width="16" height="33" rx="0" fill="#dfe7e4" stroke="#000" stroke-width="0" />
<rect x="1150" y="730" width="104" height="763" rx="0" fill="#fff" stroke="#000" stroke-width="0" />
<rect x="1226.5" y="751" width="24" height="742" rx="0" fill="#dfe7e4" stroke="#000" stroke-width="0" />
<line x1="1150" y1="730" x2="1150" y2="1046" stroke="#000" stroke-width="6.6" />
<line x1="1150" y1="1075" x2="1150" y2="1493" stroke="#000" stroke-width="6.6" />
<line x1="1254" y1="730" x2="1254" y2="1493" stroke="#000" stroke-width="6.6" />
<path d="M902 425.1 Q902 422.1 905 422.1 L1016 422.1 L1025 433.1 L1025 548.1 L1016 559.1 L905 559.1 Q902 559.1 902 556.1 Z" fill="#050505" stroke="#000" stroke-width="1.5" stroke-linejoin="round" />
<line x1="906" y1="441.1" x2="1013" y2="441.1" stroke="#fff" stroke-opacity="0.375" stroke-width="1"/><line x1="906" y1="444.5" x2="1013" y2="444.5" stroke="#fff" stroke-opacity="0.75" stroke-width="1"/><line x1="906" y1="447.9" x2="1013" y2="447.9" stroke="#fff" stroke-opacity="0.75" stroke-width="1"/><line x1="906" y1="451.3" x2="1013" y2="451.3" stroke="#fff" stroke-opacity="0.375" stroke-width="1"/><line x1="906" y1="454.7" x2="1013" y2="454.7" stroke="#fff" stroke-opacity="0.75" stroke-width="1"/><line x1="906" y1="458.1" x2="1013" y2="458.1" stroke="#fff" stroke-opacity="0.75" stroke-width="1"/><line x1="906" y1="461.5" x2="1013" y2="461.5" stroke="#fff" stroke-opacity="0.375" stroke-width="1"/><line x1="906" y1="464.9" x2="1013" y2="464.9" stroke="#fff" stroke-opacity="0.75" stroke-width="1"/><line x1="906" y1="468.3" x2="1013" y2="468.3" stroke="#fff" stroke-opacity="0.75" stroke-width="1"/><line x1="906" y1="471.7" x2="1013" y2="471.7" stroke="#fff" stroke-opacity="0.375" stroke-width="1"/><line x1="906" y1="475.1" x2="1013" y2="475.1" stroke="#fff" stroke-opacity="0.75" stroke-width="1"/><line x1="906" y1="478.5" x2="1013" y2="478.5" stroke="#fff" stroke-opacity="0.75" stroke-width="1"/><line x1="906" y1="481.9" x2="1013" y2="481.9" stroke="#fff" stroke-opacity="0.375" stroke-width="1"/><line x1="906" y1="485.3" x2="1013" y2="485.3" stroke="#fff" stroke-opacity="0.75" stroke-width="1"/><line x1="906" y1="488.7" x2="1013" y2="488.7" stroke="#fff" stroke-opacity="0.75" stroke-width="1"/><line x1="906" y1="492.1" x2="1013" y2="492.1" stroke="#fff" stroke-opacity="0.375" stroke-width="1"/><line x1="906" y1="495.5" x2="1013" y2="495.5" stroke="#fff" stroke-opacity="0.75" stroke-width="1"/><line x1="906" y1="498.9" x2="1013" y2="498.9" stroke="#fff" stroke-opacity="0.75" stroke-width="1"/><line x1="906" y1="502.3" x2="1013" y2="502.3" stroke="#fff" stroke-opacity="0.375" stroke-width="1"/><line x1="906" y1="505.7" x2="1013" y2="505.7" stroke="#fff" stroke-opacity="0.75" stroke-width="1"/><line x1="906" y1="509.1" x2="1013" y2="509.1" stroke="#fff" stroke-opacity="0.75" stroke-width="1"/><line x1="906" y1="512.5" x2="1013" y2="512.5" stroke="#fff" stroke-opacity="0.375" stroke-width="1"/><line x1="906" y1="515.9" x2="1013" y2="515.9" stroke="#fff" stroke-opacity="0.75" stroke-width="1"/><line x1="906" y1="519.3" x2="1013" y2="519.3" stroke="#fff" stroke-opacity="0.75" stroke-width="1"/><line x1="906" y1="522.7" x2="1013" y2="522.7" stroke="#fff" stroke-opacity="0.375" stroke-width="1"/><line x1="906" y1="526.1" x2="1013" y2="526.1" stroke="#fff" stroke-opacity="0.75" stroke-width="1"/><line x1="906" y1="529.5" x2="1013" y2="529.5" stroke="#fff" stroke-opacity="0.75" stroke-width="1"/><line x1="906" y1="532.9" x2="1013" y2="532.9" stroke="#fff" stroke-opacity="0.375" stroke-width="1"/><line x1="906" y1="536.3" x2="1013" y2="536.3" stroke="#fff" stroke-opacity="0.75" stroke-width="1"/><line x1="906" y1="539.7" x2="1013" y2="539.7" stroke="#fff" stroke-opacity="0.75" stroke-width="1"/>
<rect x="1016" y="433.1" width="5" height="115" rx="0" fill="#d8dcdc" stroke="#000" stroke-width="0" />
<rect x="1025" y="452.6" width="16.5" height="78" rx="0" fill="#fff" stroke="#000" stroke-width="4.5" />
<rect x="1027" y="491.6" width="12" height="37" rx="0" fill="#dfe7e4" stroke="#000" stroke-width="0" />
<path d="M1041.5 461.1 A190.5 190.5 0 0 1 1232 651.6 L1172.5 651.6 A131 131 0 0 0 1041.5 520.6 Z" fill="#fff" stroke="none" stroke-width="0" stroke-linejoin="round" />
<path d="M1172.1 516.4 L1175.7 519.9 L1179.1 523.5 L1182.5 527.3 L1185.8 531.1 L1189 535 L1192 539 L1195 543.1 L1197.8 547.2 L1200.6 551.4 L1203.2 555.7 L1205.7 560.1 L1208.1 564.5 L1210.4 569 L1212.5 573.5 L1214.6 578.1 L1216.5 582.8 L1218.2 587.5 L1219.9 592.3 L1221.4 597.1 L1222.8 601.9 L1224.1 606.8 L1225.2 611.7 L1226.2 616.6 L1227.1 621.5 L1227.8 626.5 L1228.4 631.5 L1228.9 636.5 L1229.2 641.5 L1229.4 646.6 L1229.5 651.6 L1212.5 651.6 L1212.9 647 L1213.2 642.4 L1213.3 637.8 L1213.4 633.1 L1213.3 628.5 L1213.1 623.8 L1212.7 619.1 L1212.2 614.5 L1211.6 609.8 L1210.9 605.1 L1210.1 600.5 L1209.1 595.9 L1208 591.2 L1206.7 586.6 L1205.3 582 L1203.9 577.5 L1202.2 573 L1200.5 568.5 L1198.6 564 L1196.6 559.6 L1194.5 555.3 L1192.2 550.9 L1189.9 546.7 L1187.4 542.5 L1184.8 538.3 L1182.1 534.2 L1179.2 530.2 L1176.3 526.2 L1173.2 522.3 L1170 518.5 Z" fill="#dfe7e4" stroke="none" stroke-width="0" stroke-linejoin="round" />
<path d="M1041.5 518.1 L1044.6 518.1 L1047.7 518.2 L1050.8 518.4 L1053.9 518.7 L1057 519 L1060.1 519.4 L1063.2 519.9 L1066.2 520.4 L1069.3 521 L1072.3 521.7 L1075.3 522.5 L1078.3 523.3 L1081.3 524.2 L1084.2 525.1 L1087.2 526.2 L1090.1 527.2 L1092.9 528.4 L1095.8 529.6 L1098.6 530.9 L1101.4 532.3 L1104.2 533.7 L1106.9 535.2 L1109.6 536.8 L1112.2 538.4 L1114.9 540.1 L1117.4 541.8 L1120 543.6 L1122.5 545.5 L1124.9 547.4 L1127.3 549.3 L1128 548.6 L1125.8 546.2 L1123.6 544 L1121.3 541.7 L1119 539.6 L1116.6 537.4 L1114.2 535.3 L1111.6 533.3 L1109.1 531.3 L1106.5 529.4 L1103.8 527.5 L1101.1 525.7 L1098.3 524 L1095.5 522.3 L1092.6 520.7 L1089.7 519.1 L1086.8 517.6 L1083.8 516.2 L1080.7 514.8 L1077.6 513.5 L1074.5 512.3 L1071.4 511.1 L1068.2 510.1 L1064.9 509 L1061.7 508.1 L1058.4 507.2 L1055 506.5 L1051.7 505.8 L1048.3 505.1 L1044.9 504.6 L1041.5 504.1 Z" fill="#dfe7e4" stroke="none" stroke-width="0" stroke-linejoin="round" />
<path d="M1041.5 461.1 A190.5 190.5 0 0 1 1232 651.6" fill="none" stroke="#000" stroke-width="1.6" stroke-linejoin="round" />
<path d="M1041.5 461.1 A190.5 190.5 0 0 1 1106.7 472.6" fill="none" stroke="#000" stroke-width="5" stroke-linejoin="round" />
<path d="M1180.8 521.7 A190.5 190.5 0 0 1 1199.4 545.1" fill="none" stroke="#000" stroke-width="4.2" stroke-linejoin="round" />
<path d="M1214.2 571.1 A190.5 190.5 0 0 1 1225.5 602.3" fill="none" stroke="#000" stroke-width="4.2" stroke-linejoin="round" />
<path d="M1231 631.7 A190.5 190.5 0 0 1 1232 651.6" fill="none" stroke="#000" stroke-width="4.2" stroke-linejoin="round" />
<path d="M1041.5 520.6 A131 131 0 0 1 1172 640.2" fill="none" stroke="#000" stroke-width="5.2" stroke-linejoin="round" />
<path d="M1172 640.2 A131 131 0 0 1 1172.5 651.6" fill="none" stroke="#000" stroke-width="1.6" stroke-linejoin="round" />
<rect x="1163" y="651.6" width="76" height="62.6" rx="0" fill="#fff" stroke="#000" stroke-width="4.5" />
<rect x="1216" y="654.1" width="18" height="57.6" rx="0" fill="#dfe7e4" stroke="#000" stroke-width="0" />
<path d="M1163 714.2 Q1150 716.6 1150 731.6 L1254 731.6 Q1254 716.6 1239 714.2 Z" fill="#fff" stroke="none" stroke-width="0" stroke-linejoin="round" />
<path d="M1163 714.2 Q1150 716.6 1150 737.6" fill="none" stroke="#000" stroke-width="6.6" stroke-linejoin="round" />
<path d="M1239 714.2 Q1254 716.6 1254 737.6" fill="none" stroke="#000" stroke-width="6.6" stroke-linejoin="round" />
<line x1="1154" y1="723.2" x2="1250" y2="723.2" stroke="#000" stroke-width="1.8" />
<path d="M1214 749.6 L1250.5 725.6 L1250.5 761.6 L1226.5 761.6 L1226.5 751.6 Z" fill="#dfe7e4" stroke="none" stroke-width="0" stroke-linejoin="round" />
<line x1="1150" y1="841.7" x2="1254" y2="841.7" stroke="#000" stroke-width="1.8" />
<line x1="1210" y1="841.7" x2="1250" y2="841.7" stroke="#000" stroke-width="4.5" />
<path d="M1106.3 1173.4 L1299.2 1253.4 L1299.2 1308.2 L1106.3 1228.2 Z" fill="#fff" stroke="none" stroke-width="0" stroke-linejoin="round" />
<line x1="1106.3" y1="1173.4" x2="1299.2" y2="1253.4" stroke="#000" stroke-width="5" />
<line x1="1106.3" y1="1228.2" x2="1299.2" y2="1308.2" stroke="#000" stroke-width="5" />
<line x1="1150" y1="1394.3" x2="1254" y2="1394.3" stroke="#000" stroke-width="1.8" />
<path d="M1150 1493 Q1150 1521 1168 1521 L1236 1521 Q1254 1521 1254 1493" fill="#fff" stroke="#000" stroke-width="6.6" stroke-linejoin="round" />
<rect x="1164" y="1523" width="75" height="72.6" rx="0" fill="#fff" stroke="#000" stroke-width="4.5" />
<rect x="1221" y="1525" width="15" height="68" rx="0" fill="#dfe7e4" stroke="#000" stroke-width="0" />
<path d="M1133.2 1600.5 L1140.2 1593.5 L1262.8 1593.5 L1269.8 1600.5 L1269.8 1713.5 Q1269.8 1715.5 1267.8 1715.5 L1135.2 1715.5 Q1133.2 1715.5 1133.2 1713.5 Z" fill="#050505" stroke="#000" stroke-width="1.5" stroke-linejoin="round" />
<rect x="1141.2" y="1596.5" width="120.6" height="5.2" fill="#f4f6f6"/>
<line x1="1150.2" y1="1602.5" x2="1150.2" y2="1714.5" stroke="#fff" stroke-opacity="0.25" stroke-width="1.1"/><line x1="1153.5" y1="1602.5" x2="1153.5" y2="1714.5" stroke="#fff" stroke-opacity="0.12" stroke-width="1.1"/><line x1="1156.8" y1="1602.5" x2="1156.8" y2="1714.5" stroke="#fff" stroke-opacity="0.32" stroke-width="1.1"/><line x1="1160.1" y1="1602.5" x2="1160.1" y2="1714.5" stroke="#fff" stroke-opacity="0.17" stroke-width="1.1"/><line x1="1163.4" y1="1602.5" x2="1163.4" y2="1714.5" stroke="#fff" stroke-opacity="0.44" stroke-width="1.1"/><line x1="1166.7" y1="1602.5" x2="1166.7" y2="1714.5" stroke="#fff" stroke-opacity="0.23" stroke-width="1.1"/><line x1="1170" y1="1602.5" x2="1170" y2="1714.5" stroke="#fff" stroke-opacity="0.58" stroke-width="1.1"/><line x1="1173.3" y1="1602.5" x2="1173.3" y2="1714.5" stroke="#fff" stroke-opacity="0.29" stroke-width="1.1"/><line x1="1176.6" y1="1602.5" x2="1176.6" y2="1714.5" stroke="#fff" stroke-opacity="0.72" stroke-width="1.1"/><line x1="1179.9" y1="1602.5" x2="1179.9" y2="1714.5" stroke="#fff" stroke-opacity="0.35" stroke-width="1.1"/><line x1="1183.2" y1="1602.5" x2="1183.2" y2="1714.5" stroke="#fff" stroke-opacity="0.84" stroke-width="1.1"/><line x1="1186.5" y1="1602.5" x2="1186.5" y2="1714.5" stroke="#fff" stroke-opacity="0.40" stroke-width="1.1"/><line x1="1189.8" y1="1602.5" x2="1189.8" y2="1714.5" stroke="#fff" stroke-opacity="0.93" stroke-width="1.1"/><line x1="1193.1" y1="1602.5" x2="1193.1" y2="1714.5" stroke="#fff" stroke-opacity="0.44" stroke-width="1.1"/><line x1="1196.4" y1="1602.5" x2="1196.4" y2="1714.5" stroke="#fff" stroke-opacity="0.99" stroke-width="1.1"/><line x1="1199.7" y1="1602.5" x2="1199.7" y2="1714.5" stroke="#fff" stroke-opacity="0.45" stroke-width="1.1"/><line x1="1203" y1="1602.5" x2="1203" y2="1714.5" stroke="#fff" stroke-opacity="1.00" stroke-width="1.1"/><line x1="1206.3" y1="1602.5" x2="1206.3" y2="1714.5" stroke="#fff" stroke-opacity="0.44" stroke-width="1.1"/><line x1="1209.6" y1="1602.5" x2="1209.6" y2="1714.5" stroke="#fff" stroke-opacity="0.96" stroke-width="1.1"/><line x1="1212.9" y1="1602.5" x2="1212.9" y2="1714.5" stroke="#fff" stroke-opacity="0.42" stroke-width="1.1"/><line x1="1216.2" y1="1602.5" x2="1216.2" y2="1714.5" stroke="#fff" stroke-opacity="0.88" stroke-width="1.1"/><line x1="1219.5" y1="1602.5" x2="1219.5" y2="1714.5" stroke="#fff" stroke-opacity="0.37" stroke-width="1.1"/><line x1="1222.8" y1="1602.5" x2="1222.8" y2="1714.5" stroke="#fff" stroke-opacity="0.77" stroke-width="1.1"/><line x1="1226.1" y1="1602.5" x2="1226.1" y2="1714.5" stroke="#fff" stroke-opacity="0.32" stroke-width="1.1"/><line x1="1229.4" y1="1602.5" x2="1229.4" y2="1714.5" stroke="#fff" stroke-opacity="0.63" stroke-width="1.1"/><line x1="1232.7" y1="1602.5" x2="1232.7" y2="1714.5" stroke="#fff" stroke-opacity="0.25" stroke-width="1.1"/><line x1="1236" y1="1602.5" x2="1236" y2="1714.5" stroke="#fff" stroke-opacity="0.49" stroke-width="1.1"/><line x1="1239.3" y1="1602.5" x2="1239.3" y2="1714.5" stroke="#fff" stroke-opacity="0.19" stroke-width="1.1"/><line x1="1242.6" y1="1602.5" x2="1242.6" y2="1714.5" stroke="#fff" stroke-opacity="0.36" stroke-width="1.1"/><line x1="1245.9" y1="1602.5" x2="1245.9" y2="1714.5" stroke="#fff" stroke-opacity="0.14" stroke-width="1.1"/><line x1="1249.2" y1="1602.5" x2="1249.2" y2="1714.5" stroke="#fff" stroke-opacity="0.27" stroke-width="1.1"/>
<rect x="1603.3" y="721" width="104" height="719" rx="0" fill="#fff" stroke="#000" stroke-width="0" />
<rect x="1679.8" y="742" width="24" height="698" rx="0" fill="#dfe7e4" stroke="#000" stroke-width="0" />
<line x1="1603.3" y1="721" x2="1603.3" y2="1028" stroke="#000" stroke-width="6.6" />
<line x1="1603.3" y1="1055" x2="1603.3" y2="1440" stroke="#000" stroke-width="6.6" />
<line x1="1707.3" y1="721" x2="1707.3" y2="1440" stroke="#000" stroke-width="6.6" />
<path d="M1355.3 416.5 Q1355.3 413.5 1358.3 413.5 L1469.3 413.5 L1478.3 424.5 L1478.3 539.5 L1469.3 550.5 L1358.3 550.5 Q1355.3 550.5 1355.3 547.5 Z" fill="#050505" stroke="#000" stroke-width="1.5" stroke-linejoin="round" />
<line x1="1359.3" y1="432.5" x2="1466.3" y2="432.5" stroke="#fff" stroke-opacity="0.375" stroke-width="1"/><line x1="1359.3" y1="435.9" x2="1466.3" y2="435.9" stroke="#fff" stroke-opacity="0.75" stroke-width="1"/><line x1="1359.3" y1="439.3" x2="1466.3" y2="439.3" stroke="#fff" stroke-opacity="0.75" stroke-width="1"/><line x1="1359.3" y1="442.7" x2="1466.3" y2="442.7" stroke="#fff" stroke-opacity="0.375" stroke-width="1"/><line x1="1359.3" y1="446.1" x2="1466.3" y2="446.1" stroke="#fff" stroke-opacity="0.75" stroke-width="1"/><line x1="1359.3" y1="449.5" x2="1466.3" y2="449.5" stroke="#fff" stroke-opacity="0.75" stroke-width="1"/><line x1="1359.3" y1="452.9" x2="1466.3" y2="452.9" stroke="#fff" stroke-opacity="0.375" stroke-width="1"/><line x1="1359.3" y1="456.3" x2="1466.3" y2="456.3" stroke="#fff" stroke-opacity="0.75" stroke-width="1"/><line x1="1359.3" y1="459.7" x2="1466.3" y2="459.7" stroke="#fff" stroke-opacity="0.75" stroke-width="1"/><line x1="1359.3" y1="463.1" x2="1466.3" y2="463.1" stroke="#fff" stroke-opacity="0.375" stroke-width="1"/><line x1="1359.3" y1="466.5" x2="1466.3" y2="466.5" stroke="#fff" stroke-opacity="0.75" stroke-width="1"/><line x1="1359.3" y1="469.9" x2="1466.3" y2="469.9" stroke="#fff" stroke-opacity="0.75" stroke-width="1"/><line x1="1359.3" y1="473.3" x2="1466.3" y2="473.3" stroke="#fff" stroke-opacity="0.375" stroke-width="1"/><line x1="1359.3" y1="476.7" x2="1466.3" y2="476.7" stroke="#fff" stroke-opacity="0.75" stroke-width="1"/><line x1="1359.3" y1="480.1" x2="1466.3" y2="480.1" stroke="#fff" stroke-opacity="0.75" stroke-width="1"/><line x1="1359.3" y1="483.5" x2="1466.3" y2="483.5" stroke="#fff" stroke-opacity="0.375" stroke-width="1"/><line x1="1359.3" y1="486.9" x2="1466.3" y2="486.9" stroke="#fff" stroke-opacity="0.75" stroke-width="1"/><line x1="1359.3" y1="490.3" x2="1466.3" y2="490.3" stroke="#fff" stroke-opacity="0.75" stroke-width="1"/><line x1="1359.3" y1="493.7" x2="1466.3" y2="493.7" stroke="#fff" stroke-opacity="0.375" stroke-width="1"/><line x1="1359.3" y1="497.1" x2="1466.3" y2="497.1" stroke="#fff" stroke-opacity="0.75" stroke-width="1"/><line x1="1359.3" y1="500.5" x2="1466.3" y2="500.5" stroke="#fff" stroke-opacity="0.75" stroke-width="1"/><line x1="1359.3" y1="503.9" x2="1466.3" y2="503.9" stroke="#fff" stroke-opacity="0.375" stroke-width="1"/><line x1="1359.3" y1="507.3" x2="1466.3" y2="507.3" stroke="#fff" stroke-opacity="0.75" stroke-width="1"/><line x1="1359.3" y1="510.7" x2="1466.3" y2="510.7" stroke="#fff" stroke-opacity="0.75" stroke-width="1"/><line x1="1359.3" y1="514.1" x2="1466.3" y2="514.1" stroke="#fff" stroke-opacity="0.375" stroke-width="1"/><line x1="1359.3" y1="517.5" x2="1466.3" y2="517.5" stroke="#fff" stroke-opacity="0.75" stroke-width="1"/><line x1="1359.3" y1="520.9" x2="1466.3" y2="520.9" stroke="#fff" stroke-opacity="0.75" stroke-width="1"/><line x1="1359.3" y1="524.3" x2="1466.3" y2="524.3" stroke="#fff" stroke-opacity="0.375" stroke-width="1"/><line x1="1359.3" y1="527.7" x2="1466.3" y2="527.7" stroke="#fff" stroke-opacity="0.75" stroke-width="1"/><line x1="1359.3" y1="531.1" x2="1466.3" y2="531.1" stroke="#fff" stroke-opacity="0.75" stroke-width="1"/>
<rect x="1469.3" y="424.5" width="5" height="115" rx="0" fill="#d8dcdc" stroke="#000" stroke-width="0" />
<rect x="1478.3" y="444" width="16.5" height="78" rx="0" fill="#fff" stroke="#000" stroke-width="4.5" />
<rect x="1480.3" y="483" width="12" height="37" rx="0" fill="#dfe7e4" stroke="#000" stroke-width="0" />
<path d="M1494.8 452.5 A190.5 190.5 0 0 1 1685.3 643 L1625.8 643 A131 131 0 0 0 1494.8 512 Z" fill="#fff" stroke="none" stroke-width="0" stroke-linejoin="round" />
<path d="M1625.4 507.8 L1629 511.3 L1632.4 514.9 L1635.8 518.7 L1639.1 522.5 L1642.3 526.4 L1645.3 530.4 L1648.3 534.5 L1651.1 538.6 L1653.9 542.8 L1656.5 547.1 L1659 551.5 L1661.4 555.9 L1663.7 560.4 L1665.8 564.9 L1667.9 569.5 L1669.8 574.2 L1671.5 578.9 L1673.2 583.7 L1674.7 588.5 L1676.1 593.3 L1677.4 598.2 L1678.5 603.1 L1679.5 608 L1680.4 612.9 L1681.1 617.9 L1681.7 622.9 L1682.2 627.9 L1682.5 632.9 L1682.7 638 L1682.8 643 L1665.8 643 L1666.2 638.4 L1666.5 633.8 L1666.6 629.2 L1666.7 624.5 L1666.6 619.9 L1666.4 615.2 L1666 610.5 L1665.5 605.9 L1664.9 601.2 L1664.2 596.5 L1663.4 591.9 L1662.4 587.3 L1661.3 582.6 L1660 578 L1658.6 573.4 L1657.2 568.9 L1655.5 564.4 L1653.8 559.9 L1651.9 555.4 L1649.9 551 L1647.8 546.7 L1645.5 542.3 L1643.2 538.1 L1640.7 533.9 L1638.1 529.7 L1635.4 525.6 L1632.5 521.6 L1629.6 517.6 L1626.5 513.7 L1623.3 509.9 Z" fill="#dfe7e4" stroke="none" stroke-width="0" stroke-linejoin="round" />
<path d="M1494.8 509.5 L1497.9 509.5 L1501 509.6 L1504.1 509.8 L1507.2 510.1 L1510.3 510.4 L1513.4 510.8 L1516.5 511.3 L1519.5 511.8 L1522.6 512.4 L1525.6 513.1 L1528.6 513.9 L1531.6 514.7 L1534.6 515.6 L1537.5 516.5 L1540.5 517.6 L1543.4 518.6 L1546.2 519.8 L1549.1 521 L1551.9 522.3 L1554.7 523.7 L1557.5 525.1 L1560.2 526.6 L1562.9 528.2 L1565.5 529.8 L1568.2 531.5 L1570.7 533.2 L1573.3 535 L1575.8 536.9 L1578.2 538.8 L1580.6 540.7 L1581.3 540 L1579.1 537.6 L1576.9 535.4 L1574.6 533.1 L1572.3 531 L1569.9 528.8 L1567.5 526.7 L1564.9 524.7 L1562.4 522.7 L1559.8 520.8 L1557.1 518.9 L1554.4 517.1 L1551.6 515.4 L1548.8 513.7 L1545.9 512.1 L1543 510.5 L1540.1 509 L1537.1 507.6 L1534 506.2 L1530.9 504.9 L1527.8 503.7 L1524.7 502.5 L1521.5 501.5 L1518.2 500.4 L1515 499.5 L1511.7 498.6 L1508.3 497.9 L1505 497.2 L1501.6 496.5 L1498.2 496 L1494.8 495.5 Z" fill="#dfe7e4" stroke="none" stroke-width="0" stroke-linejoin="round" />
<path d="M1494.8 452.5 A190.5 190.5 0 0 1 1685.3 643" fill="none" stroke="#000" stroke-width="1.6" stroke-linejoin="round" />
<path d="M1494.8 452.5 A190.5 190.5 0 0 1 1560 464" fill="none" stroke="#000" stroke-width="5" stroke-linejoin="round" />
<path d="M1634.1 513.1 A190.5 190.5 0 0 1 1652.7 536.5" fill="none" stroke="#000" stroke-width="4.2" stroke-linejoin="round" />
<path d="M1667.5 562.5 A190.5 190.5 0 0 1 1678.8 593.7" fill="none" stroke="#000" stroke-width="4.2" stroke-linejoin="round" />
<path d="M1684.3 623.1 A190.5 190.5 0 0 1 1685.3 643" fill="none" stroke="#000" stroke-width="4.2" stroke-linejoin="round" />
<path d="M1494.8 512 A131 131 0 0 1 1625.3 631.6" fill="none" stroke="#000" stroke-width="5.2" stroke-linejoin="round" />
<path d="M1625.3 631.6 A131 131 0 0 1 1625.8 643" fill="none" stroke="#000" stroke-width="1.6" stroke-linejoin="round" />
<rect x="1616.3" y="643" width="76" height="62.6" rx="0" fill="#fff" stroke="#000" stroke-width="4.5" />
<rect x="1669.3" y="645.5" width="18" height="57.6" rx="0" fill="#dfe7e4" stroke="#000" stroke-width="0" />
<path d="M1616.3 705.6 Q1603.3 708 1603.3 723 L1707.3 723 Q1707.3 708 1692.3 705.6 Z" fill="#fff" stroke="none" stroke-width="0" stroke-linejoin="round" />
<path d="M1616.3 705.6 Q1603.3 708 1603.3 729" fill="none" stroke="#000" stroke-width="6.6" stroke-linejoin="round" />
<path d="M1692.3 705.6 Q1707.3 708 1707.3 729" fill="none" stroke="#000" stroke-width="6.6" stroke-linejoin="round" />
<line x1="1607.3" y1="714.6" x2="1703.3" y2="714.6" stroke="#000" stroke-width="1.8" />
<path d="M1667.3 741 L1703.8 717 L1703.8 753 L1679.8 753 L1679.8 743 Z" fill="#dfe7e4" stroke="none" stroke-width="0" stroke-linejoin="round" />
<line x1="1603.3" y1="833" x2="1707.3" y2="833" stroke="#000" stroke-width="1.8" />
<line x1="1663.3" y1="833" x2="1703.3" y2="833" stroke="#000" stroke-width="4.5" />
<path d="M1559.3 1121.4 L1751.1 1201.3 L1751.1 1256.1 L1559.3 1176.2 Z" fill="#fff" stroke="none" stroke-width="0" stroke-linejoin="round" />
<line x1="1559.3" y1="1121.4" x2="1751.1" y2="1201.3" stroke="#000" stroke-width="5" />
<line x1="1559.3" y1="1176.2" x2="1751.1" y2="1256.1" stroke="#000" stroke-width="5" />
<line x1="1603.3" y1="1339.5" x2="1707.3" y2="1339.5" stroke="#000" stroke-width="1.8" />
<line x1="1603.3" y1="1339.5" x2="1653.3" y2="1339.5" stroke="#000" stroke-width="4.5" />
<path d="M1603.3 1439 Q1603.3 1467 1621.3 1467 L1689.3 1467 Q1707.3 1467 1707.3 1439" fill="#fff" stroke="#000" stroke-width="6.6" stroke-linejoin="round" />
<rect x="1605.3" y="1468.5" width="97" height="39.5" rx="3" fill="#fff" stroke="#000" stroke-width="4.5" />
<rect x="1673.3" y="1471" width="20" height="35" rx="0" fill="#dfe7e4" stroke="#000" stroke-width="0" />
<rect x="1609.3" y="1508" width="89" height="74" rx="0" fill="#fff" stroke="#000" stroke-width="4.5" />
<rect x="1673.3" y="1510" width="16" height="70" rx="0" fill="#dfe7e4" stroke="#000" stroke-width="0" />
<rect x="1616.3" y="1582" width="77" height="36" rx="0" fill="#fff" stroke="#000" stroke-width="4.5" />
<rect x="1609.3" y="1618" width="89" height="23" rx="6" fill="#fff" stroke="#000" stroke-width="4.5" />
<line x1="1613.3" y1="1629" x2="1694.3" y2="1629" stroke="#000" stroke-width="1.5" />
<rect x="1616.3" y="1641" width="77" height="37.5" rx="0" fill="#fff" stroke="#000" stroke-width="4.5" />
<rect x="1669.3" y="1643" width="16" height="33" rx="0" fill="#dfe7e4" stroke="#000" stroke-width="0" />
<rect x="763" y="2845" width="104" height="759" rx="0" fill="#fff" stroke="#000" stroke-width="0" />
<rect x="839.5" y="2845" width="24" height="759" rx="0" fill="#dfe7e4" stroke="#000" stroke-width="0" />
<line x1="763" y1="2845" x2="763" y2="2949" stroke="#000" stroke-width="6.6" />
<line x1="763" y1="2962" x2="763" y2="3604" stroke="#000" stroke-width="6.6" />
<line x1="867" y1="2845" x2="867" y2="3604" stroke="#000" stroke-width="6.6" />
<path d="M737 2484 L737 2452 Q737 2445.8 743 2445.8 L887 2445.8 Q893 2445.8 893 2452 L893 2484" fill="#fff" stroke="#000" stroke-width="4.5" stroke-linejoin="round" />
<line x1="745" y1="2449" x2="745" y2="2481" stroke="#000" stroke-width="1.3" />
<line x1="755.5" y1="2449" x2="755.5" y2="2481" stroke="#000" stroke-width="1.3" />
<line x1="766" y1="2449" x2="766" y2="2481" stroke="#000" stroke-width="1.3" />
<line x1="776.5" y1="2449" x2="776.5" y2="2481" stroke="#000" stroke-width="1.3" />
<line x1="787" y1="2449" x2="787" y2="2481" stroke="#000" stroke-width="1.3" />
<line x1="797.5" y1="2449" x2="797.5" y2="2481" stroke="#000" stroke-width="1.3" />
<line x1="808" y1="2449" x2="808" y2="2481" stroke="#000" stroke-width="1.3" />
<line x1="818.5" y1="2449" x2="818.5" y2="2481" stroke="#000" stroke-width="1.3" />
<line x1="829" y1="2449" x2="829" y2="2481" stroke="#000" stroke-width="1.3" />
<line x1="839.5" y1="2449" x2="839.5" y2="2481" stroke="#000" stroke-width="1.3" />
<line x1="850" y1="2449" x2="850" y2="2481" stroke="#000" stroke-width="1.3" />
<line x1="860.5" y1="2449" x2="860.5" y2="2481" stroke="#000" stroke-width="1.3" />
<line x1="871" y1="2449" x2="871" y2="2481" stroke="#000" stroke-width="1.3" />
<line x1="881.5" y1="2449" x2="881.5" y2="2481" stroke="#000" stroke-width="1.3" />
<rect x="724.3" y="2482" width="180.7" height="47.7" rx="3" fill="#fff" stroke="#000" stroke-width="4.5" />
<rect x="863" y="2485" width="30" height="42" rx="0" fill="#dfe7e4" stroke="#000" stroke-width="0" />
<rect x="729" y="2529.7" width="171.5" height="38" rx="0" fill="#fff" stroke="#000" stroke-width="4.5" />
<rect x="863" y="2532" width="30" height="34" rx="0" fill="#dfe7e4" stroke="#000" stroke-width="0" />
<rect x="724.3" y="2567.7" width="180.7" height="27.9" rx="3" fill="#fff" stroke="#000" stroke-width="4.5" />
<rect x="729" y="2595.6" width="171.5" height="25.2" rx="0" fill="#fff" stroke="#000" stroke-width="4.5" />
<rect x="724.3" y="2620.8" width="180.7" height="28" rx="3" fill="#fff" stroke="#000" stroke-width="4.5" />
<path d="M737 2648.8 L893 2648.8 L893 2708 Q889 2721.5 881 2721.5 L749 2721.5 Q741 2721.5 737 2708 Z" fill="#fff" stroke="#000" stroke-width="4.5" stroke-linejoin="round" />
<rect x="829" y="2651" width="60" height="55" rx="0" fill="#dfe7e4" stroke="#000" stroke-width="0" />
<line x1="824.5" y1="2650" x2="824.5" y2="2705" stroke="#000" stroke-width="1.8" />
<path d="M741 2705 Q783 2725 824.5 2705 Q863 2725 889 2705" fill="none" stroke="#000" stroke-width="1.5" stroke-linejoin="round" />
<path d="M749.5 2721.5 L749.5 2794.2 L783 2822 L847 2822 L881 2794.2 L881 2721.5" fill="#fff" stroke="#000" stroke-width="4.5" stroke-linejoin="round" />
<rect x="847" y="2724" width="30" height="68" rx="0" fill="#dfe7e4" stroke="#000" stroke-width="0" />
<line x1="752" y1="2794.2" x2="879" y2="2794.2" stroke="#000" stroke-width="1.8" />
<path d="M783 2822 Q763 2825 763 2848 L867 2848 Q867 2825 847 2822 Z" fill="#fff" stroke="none" stroke-width="0" stroke-linejoin="round" />
<path d="M783 2822 Q763 2825 763 2848" fill="none" stroke="#000" stroke-width="6.6" stroke-linejoin="round" />
<path d="M847 2822 Q867 2825 867 2848" fill="none" stroke="#000" stroke-width="6.6" stroke-linejoin="round" />
<line x1="771" y1="2829" x2="859" y2="2829" stroke="#000" stroke-width="1.8" />
<line x1="763" y1="2950.8" x2="867" y2="2950.8" stroke="#000" stroke-width="1.8" />
<path d="M723.2 3147.9 L915.6 3227.8 L915.6 3281.9 L723.2 3202 Z" fill="#fff" stroke="none" stroke-width="0" stroke-linejoin="round" />
<line x1="723.2" y1="3147.9" x2="915.6" y2="3227.8" stroke="#000" stroke-width="5" />
<line x1="723.2" y1="3202" x2="915.6" y2="3281.9" stroke="#000" stroke-width="5" />
<line x1="763" y1="3501.3" x2="867" y2="3501.3" stroke="#000" stroke-width="1.8" />
<line x1="763" y1="3501.3" x2="763" y2="3604" stroke="#000" stroke-width="8" />
<path d="M763 3604 Q763 3629 781 3629 L849 3629 Q867 3629 867 3604" fill="#fff" stroke="#000" stroke-width="6.6" stroke-linejoin="round" />
<rect x="839.5" y="3602" width="20" height="22" rx="0" fill="#dfe7e4" stroke="#000" stroke-width="0" />
<path d="M760 3637.6 L766 3631.6 L864 3631.6 L870 3637.6 L870 3671.6 L864 3678.1 L766 3678.1 L760 3671.6 Z" fill="#fff" stroke="#000" stroke-width="4" stroke-linejoin="round" />
<line x1="795" y1="3634.6" x2="795" y2="3675.6" stroke="#000" stroke-width="1.5" />
<line x1="800.7" y1="3634.6" x2="800.7" y2="3675.6" stroke="#000" stroke-width="1.5" />
<line x1="849.3" y1="3634.6" x2="849.3" y2="3675.6" stroke="#000" stroke-width="1.5" />
<line x1="855" y1="3634.6" x2="855" y2="3675.6" stroke="#000" stroke-width="1.5" />
<rect x="772.5" y="3681.1" width="86" height="13.5" rx="6.5" fill="#fff" stroke="#000" stroke-width="3.6" />
<path d="M779 3699.6 L779 3735.6 L852 3735.6 L852 3699.6" fill="none" stroke="#000" stroke-width="3.6" stroke-linejoin="round" />
<line x1="783" y1="3731.6" x2="848" y2="3731.6" stroke="#000" stroke-width="1.2" />
<line x1="818" y1="3698.6" x2="852" y2="3698.6" stroke="#000" stroke-width="3.6" />
<line x1="784" y1="3735.6" x2="784" y2="3743.6" stroke="#000" stroke-width="3" />
<line x1="847" y1="3735.6" x2="847" y2="3743.6" stroke="#000" stroke-width="3" />
<rect x="1362" y="2655" width="104" height="937" rx="0" fill="#fff" stroke="#000" stroke-width="0" />
<rect x="1438.5" y="2655" width="24" height="937" rx="0" fill="#dfe7e4" stroke="#000" stroke-width="0" />
<line x1="1362" y1="2655" x2="1362" y2="2853" stroke="#000" stroke-width="6.6" />
<line x1="1362" y1="2881" x2="1362" y2="3592" stroke="#000" stroke-width="6.6" />
<line x1="1466" y1="2655" x2="1466" y2="3592" stroke="#000" stroke-width="6.6" />
<path d="M1344 2439.4 Q1344 2437.4 1346 2437.4 L1479.4 2437.4 Q1481.4 2437.4 1481.4 2439.4 L1481.4 2554 L1474.4 2561 L1351 2561 L1344 2554 Z" fill="#050505" stroke="#000" stroke-width="1.5" stroke-linejoin="round" />
<rect x="1352" y="2552.5" width="121.4" height="5.2" fill="#f4f6f6"/>
<line x1="1361" y1="2439.4" x2="1361" y2="2552" stroke="#fff" stroke-opacity="0.25" stroke-width="1.1"/><line x1="1364.3" y1="2439.4" x2="1364.3" y2="2552" stroke="#fff" stroke-opacity="0.12" stroke-width="1.1"/><line x1="1367.6" y1="2439.4" x2="1367.6" y2="2552" stroke="#fff" stroke-opacity="0.32" stroke-width="1.1"/><line x1="1370.9" y1="2439.4" x2="1370.9" y2="2552" stroke="#fff" stroke-opacity="0.17" stroke-width="1.1"/><line x1="1374.2" y1="2439.4" x2="1374.2" y2="2552" stroke="#fff" stroke-opacity="0.44" stroke-width="1.1"/><line x1="1377.5" y1="2439.4" x2="1377.5" y2="2552" stroke="#fff" stroke-opacity="0.23" stroke-width="1.1"/><line x1="1380.8" y1="2439.4" x2="1380.8" y2="2552" stroke="#fff" stroke-opacity="0.57" stroke-width="1.1"/><line x1="1384.1" y1="2439.4" x2="1384.1" y2="2552" stroke="#fff" stroke-opacity="0.29" stroke-width="1.1"/><line x1="1387.4" y1="2439.4" x2="1387.4" y2="2552" stroke="#fff" stroke-opacity="0.71" stroke-width="1.1"/><line x1="1390.7" y1="2439.4" x2="1390.7" y2="2552" stroke="#fff" stroke-opacity="0.35" stroke-width="1.1"/><line x1="1394" y1="2439.4" x2="1394" y2="2552" stroke="#fff" stroke-opacity="0.84" stroke-width="1.1"/><line x1="1397.3" y1="2439.4" x2="1397.3" y2="2552" stroke="#fff" stroke-opacity="0.40" stroke-width="1.1"/><line x1="1400.6" y1="2439.4" x2="1400.6" y2="2552" stroke="#fff" stroke-opacity="0.93" stroke-width="1.1"/><line x1="1403.9" y1="2439.4" x2="1403.9" y2="2552" stroke="#fff" stroke-opacity="0.43" stroke-width="1.1"/><line x1="1407.2" y1="2439.4" x2="1407.2" y2="2552" stroke="#fff" stroke-opacity="0.99" stroke-width="1.1"/><line x1="1410.5" y1="2439.4" x2="1410.5" y2="2552" stroke="#fff" stroke-opacity="0.45" stroke-width="1.1"/><line x1="1413.8" y1="2439.4" x2="1413.8" y2="2552" stroke="#fff" stroke-opacity="1.00" stroke-width="1.1"/><line x1="1417.1" y1="2439.4" x2="1417.1" y2="2552" stroke="#fff" stroke-opacity="0.44" stroke-width="1.1"/><line x1="1420.4" y1="2439.4" x2="1420.4" y2="2552" stroke="#fff" stroke-opacity="0.96" stroke-width="1.1"/><line x1="1423.7" y1="2439.4" x2="1423.7" y2="2552" stroke="#fff" stroke-opacity="0.42" stroke-width="1.1"/><line x1="1427" y1="2439.4" x2="1427" y2="2552" stroke="#fff" stroke-opacity="0.89" stroke-width="1.1"/><line x1="1430.3" y1="2439.4" x2="1430.3" y2="2552" stroke="#fff" stroke-opacity="0.38" stroke-width="1.1"/><line x1="1433.6" y1="2439.4" x2="1433.6" y2="2552" stroke="#fff" stroke-opacity="0.78" stroke-width="1.1"/><line x1="1436.9" y1="2439.4" x2="1436.9" y2="2552" stroke="#fff" stroke-opacity="0.32" stroke-width="1.1"/><line x1="1440.2" y1="2439.4" x2="1440.2" y2="2552" stroke="#fff" stroke-opacity="0.65" stroke-width="1.1"/><line x1="1443.5" y1="2439.4" x2="1443.5" y2="2552" stroke="#fff" stroke-opacity="0.26" stroke-width="1.1"/><line x1="1446.8" y1="2439.4" x2="1446.8" y2="2552" stroke="#fff" stroke-opacity="0.51" stroke-width="1.1"/><line x1="1450.1" y1="2439.4" x2="1450.1" y2="2552" stroke="#fff" stroke-opacity="0.20" stroke-width="1.1"/><line x1="1453.4" y1="2439.4" x2="1453.4" y2="2552" stroke="#fff" stroke-opacity="0.37" stroke-width="1.1"/><line x1="1456.7" y1="2439.4" x2="1456.7" y2="2552" stroke="#fff" stroke-opacity="0.14" stroke-width="1.1"/><line x1="1460" y1="2439.4" x2="1460" y2="2552" stroke="#fff" stroke-opacity="0.28" stroke-width="1.1"/><line x1="1463.3" y1="2439.4" x2="1463.3" y2="2552" stroke="#fff" stroke-opacity="0.11" stroke-width="1.1"/>
<rect x="1373.6" y="2559.3" width="76.6" height="67.1" rx="0" fill="#fff" stroke="#000" stroke-width="4.5" />
<rect x="1433" y="2562" width="16" height="62" rx="0" fill="#dfe7e4" stroke="#000" stroke-width="0" />
<path d="M1373.6 2626.4 Q1362 2630 1362 2656 L1466 2656 Q1466 2630 1450.2 2626.4 Z" fill="#fff" stroke="none" stroke-width="0" stroke-linejoin="round" />
<path d="M1373.6 2626.4 Q1362 2630 1362 2656" fill="none" stroke="#000" stroke-width="6.6" stroke-linejoin="round" />
<path d="M1450.2 2626.4 Q1466 2630 1466 2656" fill="none" stroke="#000" stroke-width="6.6" stroke-linejoin="round" />
<line x1="1368" y1="2634" x2="1460" y2="2634" stroke="#000" stroke-width="1.8" />
<line x1="1362" y1="2759" x2="1466" y2="2759" stroke="#000" stroke-width="1.8" />
<line x1="1362" y1="2759" x2="1407" y2="2759" stroke="#000" stroke-width="4.5" />
<path d="M1312 3048.9 L1505 3128.3 L1505 3181.4 L1312 3102 Z" fill="#fff" stroke="none" stroke-width="0" stroke-linejoin="round" />
<line x1="1312" y1="3048.9" x2="1505" y2="3128.3" stroke="#000" stroke-width="5" />
<line x1="1312" y1="3102" x2="1505" y2="3181.4" stroke="#000" stroke-width="5" />
<line x1="1362" y1="3490" x2="1466" y2="3490" stroke="#000" stroke-width="1.8" />
<line x1="1362" y1="3490" x2="1362" y2="3592" stroke="#000" stroke-width="8" />
<path d="M1362 3592 Q1362 3616 1380 3616 L1448 3616 Q1466 3616 1466 3592" fill="#fff" stroke="#000" stroke-width="6.6" stroke-linejoin="round" />
<rect x="1438.5" y="3590" width="20" height="21" rx="0" fill="#dfe7e4" stroke="#000" stroke-width="0" />
<path d="M1359 3626.5 L1365 3620.5 L1463 3620.5 L1469 3626.5 L1469 3660.5 L1463 3667 L1365 3667 L1359 3660.5 Z" fill="#fff" stroke="#000" stroke-width="4" stroke-linejoin="round" />
<line x1="1394" y1="3623.5" x2="1394" y2="3664.5" stroke="#000" stroke-width="1.5" />
<line x1="1399.7" y1="3623.5" x2="1399.7" y2="3664.5" stroke="#000" stroke-width="1.5" />
<line x1="1448.3" y1="3623.5" x2="1448.3" y2="3664.5" stroke="#000" stroke-width="1.5" />
<line x1="1454" y1="3623.5" x2="1454" y2="3664.5" stroke="#000" stroke-width="1.5" />
<rect x="1371.5" y="3670" width="86" height="13.5" rx="6.5" fill="#fff" stroke="#000" stroke-width="3.6" />
<path d="M1378 3688.5 L1378 3724.5 L1451 3724.5 L1451 3688.5" fill="none" stroke="#000" stroke-width="3.6" stroke-linejoin="round" />
<line x1="1382" y1="3720.5" x2="1447" y2="3720.5" stroke="#000" stroke-width="1.2" />
<line x1="1417" y1="3687.5" x2="1451" y2="3687.5" stroke="#000" stroke-width="3.6" />
<line x1="1383" y1="3724.5" x2="1383" y2="3732.5" stroke="#000" stroke-width="3" />
<line x1="1446" y1="3724.5" x2="1446" y2="3732.5" stroke="#000" stroke-width="3" />
<rect x="2674.5" y="219.1" width="86.5" height="46" rx="7" fill="#fff" stroke="#000" stroke-width="5.5" />
<rect x="2738" y="224" width="18" height="38" rx="0" fill="#dfe7e4" stroke="#000" stroke-width="0" />
<rect x="2666" y="264" width="102.7" height="22" rx="9" fill="#fff" stroke="#000" stroke-width="5" />
<rect x="2740" y="267" width="22" height="16" rx="0" fill="#dfe7e4" stroke="#000" stroke-width="0" />
<path d="M2676 286 L2676 301 Q2676 312 2672 322 L2670 329 L2767 329 L2764 322 Q2759 312 2759 301 L2759 286 Z" fill="#fff" stroke="#000" stroke-width="5" stroke-linejoin="round" />
<line x1="2678" y1="301.7" x2="2757" y2="301.7" stroke="#000" stroke-width="1.6" />
<rect x="2738" y="303" width="19" height="24" rx="0" fill="#dfe7e4" stroke="#000" stroke-width="0" />
<rect x="2668.4" y="329" width="99" height="24" rx="0" fill="#fff" stroke="#000" stroke-width="0" />
<rect x="2740" y="330" width="24" height="22" rx="0" fill="#dfe7e4" stroke="#000" stroke-width="0" />
<line x1="2668.4" y1="326" x2="2668.4" y2="331" stroke="#000" stroke-width="5" />
<line x1="2668.4" y1="342" x2="2668.4" y2="356" stroke="#000" stroke-width="5" />
<line x1="2767.4" y1="326" x2="2767.4" y2="356" stroke="#000" stroke-width="5" />
<line x1="2693" y1="333.5" x2="2764" y2="332.5" stroke="#000" stroke-width="1.6" />
<rect x="2667.4" y="353" width="101.6" height="74.5" rx="0" fill="#fff" stroke="#000" stroke-width="0" />
<line x1="2667.4" y1="353" x2="2667.4" y2="427.5" stroke="#000" stroke-width="5.5" />
<line x1="2769" y1="353" x2="2769" y2="427.5" stroke="#000" stroke-width="5.5" />
<line x1="2670" y1="353.5" x2="2766" y2="353.5" stroke="#000" stroke-width="2.2" />
<rect x="2740" y="356" width="24" height="69" rx="0" fill="#dfe7e4" stroke="#000" stroke-width="0" />
<rect x="2649.3" y="427.5" width="138.9" height="45.3" rx="3" fill="#fff" stroke="#000" stroke-width="5.5" />
<rect x="2770" y="431" width="15" height="38" rx="0" fill="#dfe7e4" stroke="#000" stroke-width="0" />
<line x1="2703.7" y1="430" x2="2703.7" y2="470" stroke="#000" stroke-width="1.5" />
<line x1="2708.7" y1="430" x2="2708.7" y2="470" stroke="#000" stroke-width="1.5" />
<line x1="2772" y1="430" x2="2772" y2="470" stroke="#000" stroke-width="1.5" />
<line x1="2775" y1="430" x2="2775" y2="470" stroke="#000" stroke-width="1.5" />
<line x1="2652" y1="431" x2="2786" y2="431" stroke="#000" stroke-width="1.6" />
<rect x="2656.4" y="472.8" width="122.8" height="15.1" rx="6" fill="#fff" stroke="#000" stroke-width="4.5" />
<rect x="2659.4" y="487.9" width="117.7" height="40.2" rx="2" fill="#fff" stroke="#000" stroke-width="5.5" />
<rect x="2748" y="491" width="26" height="35" rx="0" fill="#dfe7e4" stroke="#000" stroke-width="0" />
<line x1="2672" y1="492" x2="2758" y2="492" stroke="#000" stroke-width="4" />
<rect x="2666.4" y="528.1" width="106.7" height="18.1" rx="2" fill="#fff" stroke="#000" stroke-width="5.5" />
<rect x="2745" y="531" width="25" height="13" rx="0" fill="#dfe7e4" stroke="#000" stroke-width="0" />
<rect x="2689.6" y="568.3" width="60.1" height="224.5" rx="0" fill="#fff" stroke="#000" stroke-width="0" />
<rect x="2728.8" y="571" width="17.4" height="219" rx="0" fill="#dfe7e4" stroke="#000" stroke-width="0" />
<line x1="2694.5" y1="571" x2="2694.5" y2="790" stroke="#000" stroke-width="1.4" />
<line x1="2721.8" y1="571" x2="2721.8" y2="690" stroke="#000" stroke-width="1.6" />
<line x1="2721.8" y1="735" x2="2721.8" y2="790" stroke="#000" stroke-width="1.2" />
<line x1="2689.6" y1="568.3" x2="2749.7" y2="568.3" stroke="#000" stroke-width="5.6" />
<line x1="2689.6" y1="792.8" x2="2749.7" y2="792.8" stroke="#000" stroke-width="5.6" />
<line x1="2749.7" y1="568.3" x2="2749.7" y2="792.8" stroke="#000" stroke-width="5.6" />
<line x1="2689.6" y1="568.3" x2="2689.6" y2="690" stroke="#000" stroke-width="5.6" />
<line x1="2689.6" y1="701.2" x2="2689.6" y2="792.8" stroke="#000" stroke-width="5.6" />
<line x1="2691" y1="652.2" x2="2699" y2="652.2" stroke="#000" stroke-width="2.5" />
<line x1="2717.8" y1="652.2" x2="2725.8" y2="652.2" stroke="#000" stroke-width="2.5" />
<line x1="2741" y1="652.2" x2="2749" y2="652.2" stroke="#000" stroke-width="2.5" />
<rect x="2694.5" y="707" width="13" height="27" rx="0" fill="#dfe7e4" stroke="#000" stroke-width="0" />
<rect x="2707.8" y="705.4" width="25.9" height="30.1" rx="2" fill="#fff" stroke="#000" stroke-width="5" />
<rect x="2698.1" y="826.2" width="45.2" height="58.5" rx="0" fill="#fff" stroke="#000" stroke-width="5.5" />
<rect x="2729" y="829" width="11" height="53" rx="0" fill="#dfe7e4" stroke="#000" stroke-width="0" />
<path d="M2691.7 885.6 L2750.7 885.6 L2756.2 897 L2684.3 897 Z" fill="#fff" stroke="#000" stroke-width="5" stroke-linejoin="round" />
<rect x="2679.7" y="897.6" width="83" height="21.3" rx="10" fill="#fff" stroke="#000" stroke-width="5" />
<rect x="2700" y="905" width="55" height="10" rx="0" fill="#dfe7e4" stroke="#000" stroke-width="0" />
<rect x="2681.5" y="918.9" width="79.3" height="9.1" rx="3" fill="#fff" stroke="#000" stroke-width="4.5" />
<rect x="2707" y="928" width="34" height="101" rx="0" fill="#fff" stroke="#000" stroke-width="4" />
<rect x="2729" y="930" width="10" height="97" rx="0" fill="#dfe7e4" stroke="#000" stroke-width="0" />
<path d="M2696 947 Q2683 954 2695 961 L2748 946 Q2761 939 2749 932 L2697 947" fill="none" stroke="#000" stroke-width="6" stroke-linejoin="round" />
<path d="M2696 977 Q2683 984 2695 991 L2748 976 Q2761 969 2749 962 L2697 977" fill="none" stroke="#000" stroke-width="6" stroke-linejoin="round" />
<path d="M2696 1007 Q2683 1014 2695 1021 L2748 1006 Q2761 999 2749 992 L2697 1007" fill="none" stroke="#000" stroke-width="6" stroke-linejoin="round" />
<path d="M2690 930 L2752 928" fill="none" stroke="#000" stroke-width="5" stroke-linejoin="round" />
<rect x="2685.2" y="1028.6" width="72.9" height="21.3" rx="0" fill="#fff" stroke="#000" stroke-width="5.5" />
<rect x="2733" y="1031" width="22" height="17" rx="0" fill="#dfe7e4" stroke="#000" stroke-width="0" />
<rect x="2693.5" y="1049.9" width="57.2" height="29.5" rx="0" fill="#fff" stroke="#000" stroke-width="5.5" />
<rect x="2709" y="1052" width="27" height="26" rx="0" fill="#dfe7e4" stroke="#000" stroke-width="0" />
<path d="M2718.5 1055 L2722.5 1055 L2725 1079 L2716 1079 Z" fill="#000" stroke="none" stroke-width="0" stroke-linejoin="round" />
<rect x="2676.9" y="1079.4" width="90.4" height="40.6" rx="0" fill="#fff" stroke="#000" stroke-width="5.5" />
<rect x="2745" y="1082" width="20" height="36" rx="0" fill="#dfe7e4" stroke="#000" stroke-width="0" />
<g transform="translate(2159.1,1124.9) rotate(45)">
<rect x="395" y="-58" width="65" height="116" rx="0" fill="#fff" stroke="#000" stroke-width="5.5" />
<rect x="402" y="40" width="53" height="10" rx="0" fill="#dfe7e4" stroke="#000" stroke-width="0" />
<line x1="405" y1="45" x2="455" y2="45" stroke="#000" stroke-width="1.6" />
<line x1="405" y1="-45" x2="455" y2="-45" stroke="#000" stroke-width="1.6" />
<line x1="400" y1="-50" x2="400" y2="50" stroke="#000" stroke-width="1.6" />
<rect x="378" y="-72" width="20" height="144" rx="8" fill="#fff" stroke="#000" stroke-width="4.5" />
<path d="M0 -85 L37 -85 L37 -100 L90 -100 L90 -93 L133 -93 L133 -101 L163 -101 L163 -97 L190 -97 L190 -101 L217 -101 L217 -88 L310 -88 L310 -96 L372 -96 Q384 -60 384 0 Q384 60 372 96 L310 96 L310 88 L217 88 L217 101 L190 101 L190 97 L163 97 L163 101 L133 101 L133 93 L90 93 L90 100 L37 100 L37 85 L0 85 Z" fill="#fff" stroke="none" stroke-width="0" stroke-linejoin="round" />
<rect x="2" y="76" width="33" height="6.5" rx="0" fill="#dfe7e4" stroke="#000" stroke-width="0" />
<rect x="39" y="91" width="49" height="6.5" rx="0" fill="#dfe7e4" stroke="#000" stroke-width="0" />
<rect x="92" y="84" width="39" height="6.5" rx="0" fill="#dfe7e4" stroke="#000" stroke-width="0" />
<rect x="135" y="92" width="26" height="6.5" rx="0" fill="#dfe7e4" stroke="#000" stroke-width="0" />
<rect x="165" y="88" width="23" height="6.5" rx="0" fill="#dfe7e4" stroke="#000" stroke-width="0" />
<rect x="192" y="92" width="23" height="6.5" rx="0" fill="#dfe7e4" stroke="#000" stroke-width="0" />
<rect x="219" y="80" width="89" height="5.5" rx="0" fill="#dfe7e4" stroke="#000" stroke-width="0" />
<path d="M0 -85 L37 -85 L37 -100 L90 -100 L90 -93 L133 -93 L133 -101 L163 -101 L163 -97 L190 -97 L190 -101 L217 -101 L217 -88 L310 -88 L310 -96 L372 -96 Q384 -60 384 0 Q384 60 372 96 L310 96 L310 88 L217 88 L217 101 L190 101 L190 97 L163 97 L163 101 L133 101 L133 93 L90 93 L90 100 L37 100 L37 85 L0 85 Z" fill="none" stroke="#000" stroke-width="5.5" stroke-linejoin="round" />
<line x1="37" y1="-83" x2="37" y2="83" stroke="#000" stroke-width="2.4" />
<line x1="90" y1="-91" x2="90" y2="91" stroke="#000" stroke-width="2.4" />
<line x1="133" y1="-91" x2="133" y2="91" stroke="#000" stroke-width="2.4" />
<line x1="163" y1="-95" x2="163" y2="95" stroke="#000" stroke-width="2.4" />
<line x1="190" y1="-95" x2="190" y2="95" stroke="#000" stroke-width="2.4" />
<line x1="217" y1="-86" x2="217" y2="86" stroke="#000" stroke-width="2.4" />
<line x1="41" y1="-79" x2="41" y2="79" stroke="#000" stroke-width="1.2" />
<line x1="94" y1="-87" x2="94" y2="87" stroke="#000" stroke-width="1.2" />
<line x1="137" y1="-87" x2="137" y2="87" stroke="#000" stroke-width="1.2" />
<line x1="186" y1="-91" x2="186" y2="91" stroke="#000" stroke-width="1.2" />
<line x1="4" y1="-80" x2="4" y2="80" stroke="#000" stroke-width="3.5" />
<line x1="222" y1="-62" x2="372" y2="-62" stroke="#000" stroke-width="1.6" />
<line x1="222" y1="62" x2="372" y2="62" stroke="#000" stroke-width="1.6" />
<line x1="250" y1="-70" x2="255" y2="-55" stroke="#000" stroke-width="1.4" />
<line x1="265" y1="60" x2="270" y2="75" stroke="#000" stroke-width="1.4" />
</g>
<path d="M2640 1437.8 L2776 1437.8 Q2779.7 1437.8 2779.7 1442 L2779.7 1473 Q2779.7 1480 2772 1486 L2771 1606 Q2771 1614 2780 1614.5 Q2815 1616 2815 1645.4 Q2815 1676 2780 1677.5 Q2773.4 1679 2773.4 1686 L2773.4 1761 Q2773.4 1765 2769 1765 L2650 1765 Q2646.3 1765 2646.3 1761 L2646.3 1696 Q2644 1684 2632 1680 L2568 1677 Q2540 1676 2540 1648 Q2540 1628 2558 1614 L2525.5 1576.2 Q2522 1573 2516 1573 L2463.8 1523.3 L2563.3 1423.9 L2616.1 1478 Q2626 1489 2635 1478 Q2638 1474 2637.5 1466 L2637 1441 Q2637 1437.8 2640 1437.8 Z" fill="#fff" stroke="#000" stroke-width="5.5" stroke-linejoin="round" />
<path d="M2742 1442 L2774 1442 L2774 1760 L2758 1760 L2758 1520 Q2758 1505 2742 1500 Z" fill="#dfe7e4" stroke="none" stroke-width="0" stroke-linejoin="round" />
<path d="M2470 1523 L2560 1430 L2572 1442 L2490 1530 Q2500 1550 2525 1570 L2516 1573 Z" fill="#dfe7e4" stroke="none" stroke-width="0" stroke-linejoin="round" />
<path d="M2640 1437.8 L2776 1437.8 Q2779.7 1437.8 2779.7 1442 L2779.7 1473 Q2779.7 1480 2772 1486 L2771 1606 Q2771 1614 2780 1614.5 Q2815 1616 2815 1645.4 Q2815 1676 2780 1677.5 Q2773.4 1679 2773.4 1686 L2773.4 1761 Q2773.4 1765 2769 1765 L2650 1765 Q2646.3 1765 2646.3 1761 L2646.3 1696 Q2644 1684 2632 1680 L2568 1677 Q2540 1676 2540 1648 Q2540 1628 2558 1614 L2525.5 1576.2 Q2522 1573 2516 1573 L2463.8 1523.3 L2563.3 1423.9 L2616.1 1478 Q2626 1489 2635 1478 Q2638 1474 2637.5 1466 L2637 1441 Q2637 1437.8 2640 1437.8 Z" fill="none" stroke="#000" stroke-width="5.5" stroke-linejoin="round" />
<line x1="2598.5" y1="1498.2" x2="2645" y2="1544.7" stroke="#000" stroke-width="1.6" />
<line x1="2535.6" y1="1562.4" x2="2651.4" y2="1675.6" stroke="#000" stroke-width="1.6" />
<line x1="2671.5" y1="1481.8" x2="2671.5" y2="1544.7" stroke="#000" stroke-width="1.6" />
<line x1="2758.3" y1="1482" x2="2758.3" y2="1757" stroke="#000" stroke-width="1.6" />
<line x1="2662.7" y1="1697" x2="2662.7" y2="1757.4" stroke="#000" stroke-width="1.6" />
<line x1="2766" y1="1615" x2="2766" y2="1676" stroke="#000" stroke-width="1.4" />
<rect x="2681.6" y="1504.5" width="59.1" height="202.5" rx="11" fill="#fff" stroke="#000" stroke-width="2.2" />
<rect x="2685.5" y="1508.5" width="51.3" height="194.5" rx="9" fill="none" stroke="#000" stroke-width="1.2" />
<rect x="2692" y="1513" width="6.8" height="185" rx="0" fill="#fff" stroke="#000" stroke-width="2.4" />
<text transform="translate(2702,1516) rotate(90)" font-size="36" font-weight="bold" font-style="italic" font-family="Liberation Sans" fill="#fff" stroke="#000" stroke-width="2.6" stroke-linejoin="round" textLength="180" lengthAdjust="spacingAndGlyphs">INTERSPIRO</text>
<rect x="2492" y="1966.3" width="93" height="66" rx="6" fill="#fff" stroke="#000" stroke-width="5.5" />
<rect x="2560" y="1972" width="21" height="56" rx="0" fill="#dfe7e4" stroke="#000" stroke-width="0" />
<line x1="2496" y1="1974" x2="2581" y2="1974" stroke="#000" stroke-width="1.6" />
<line x1="2498" y1="2024" x2="2580" y2="2024" stroke="#000" stroke-width="1.6" />
<rect x="2484" y="2031.7" width="109.7" height="17.6" rx="8.8" fill="#fff" stroke="#000" stroke-width="5" />
<rect x="2444.2" y="2051.8" width="188.2" height="36.2" rx="5" fill="#fff" stroke="#000" stroke-width="5.5" />
<rect x="2580" y="2055" width="49" height="30" rx="0" fill="#dfe7e4" stroke="#000" stroke-width="0" />
<path d="M2462.8 2088 L2462.8 2162.6 L2467 2162.6 L2467 2239 L2462.8 2239 L2462.8 2311 L2612.3 2311 L2612.3 2239 L2606 2239 L2606 2162.6 L2612.3 2162.6 L2612.3 2088" fill="#fff" stroke="#000" stroke-width="5.5" stroke-linejoin="round" />
<rect x="2582" y="2091" width="22" height="218" rx="0" fill="#dfe7e4" stroke="#000" stroke-width="0" />
<rect x="2469" y="2162.6" width="17" height="76.4" rx="0" fill="#fff" stroke="#000" stroke-width="1.6" />
<line x1="2466" y1="2309" x2="2608" y2="2309.5" stroke="#000" stroke-width="1.6" />
<rect x="2442.7" y="2311" width="188.7" height="38.8" rx="5" fill="#fff" stroke="#000" stroke-width="5.5" />
<rect x="2578" y="2314" width="50" height="33" rx="0" fill="#dfe7e4" stroke="#000" stroke-width="0" />
<rect x="2658" y="2665" width="104" height="901" rx="0" fill="#fff" stroke="#000" stroke-width="0" />
<rect x="2734.5" y="2665" width="24" height="901" rx="0" fill="#dfe7e4" stroke="#000" stroke-width="0" />
<line x1="2658" y1="2665" x2="2658" y2="3566" stroke="#000" stroke-width="6.6" />
<line x1="2762" y1="2665" x2="2762" y2="3566" stroke="#000" stroke-width="6.6" />
<rect x="2672.7" y="2528.5" width="75.5" height="52" rx="5" fill="#fff" stroke="#000" stroke-width="5" />
<rect x="2724" y="2532.5" width="20" height="45" rx="0" fill="#dfe7e4" stroke="#000" stroke-width="0" />
<line x1="2676" y1="2535.5" x2="2744" y2="2535.5" stroke="#000" stroke-width="1.5" />
<rect x="2665" y="2580.4" width="90" height="14.6" rx="7" fill="#fff" stroke="#000" stroke-width="4.5" />
<path d="M2654 2600.5 L2660 2595 L2760 2595 L2766 2600.5 L2766 2634.5 L2760 2640 L2660 2640 L2654 2634.5 Z" fill="#fff" stroke="#000" stroke-width="4.5" stroke-linejoin="round" />
<line x1="2688" y1="2597.5" x2="2688" y2="2637.5" stroke="#000" stroke-width="1.5" />
<line x1="2694" y1="2597.5" x2="2694" y2="2637.5" stroke="#000" stroke-width="1.5" />
<line x1="2744" y1="2597.5" x2="2744" y2="2637.5" stroke="#000" stroke-width="1.5" />
<line x1="2750" y1="2597.5" x2="2750" y2="2637.5" stroke="#000" stroke-width="1.5" />
<path d="M2658 2672 Q2658 2643 2676 2643 L2744 2643 Q2762 2643 2762 2672" fill="#fff" stroke="#000" stroke-width="6.6" stroke-linejoin="round" />
<line x1="2658" y1="2672" x2="2658" y2="2772" stroke="#000" stroke-width="8" />
<line x1="2658" y1="2772.2" x2="2762" y2="2772.2" stroke="#000" stroke-width="1.8" />
<path d="M2610.6 2981.6 L2801.9 3061.1 L2801.9 3116.3 L2610.6 3036.8 Z" fill="#fff" stroke="none" stroke-width="0" stroke-linejoin="round" />
<line x1="2610.6" y1="2981.6" x2="2801.9" y2="3061.1" stroke="#000" stroke-width="5" />
<line x1="2610.6" y1="3036.8" x2="2801.9" y2="3116.3" stroke="#000" stroke-width="5" />
<line x1="2658" y1="3466.4" x2="2762" y2="3466.4" stroke="#000" stroke-width="1.8" />
<line x1="2658" y1="3466.4" x2="2658" y2="3566" stroke="#000" stroke-width="8" />
<path d="M2658 3566 Q2658 3595 2676 3595 L2744 3595 Q2762 3595 2762 3566" fill="#fff" stroke="#000" stroke-width="6.6" stroke-linejoin="round" />
<rect x="2734.5" y="3564" width="20" height="26" rx="0" fill="#dfe7e4" stroke="#000" stroke-width="0" />
<path d="M2655 3603.6 L2661 3597.6 L2759 3597.6 L2765 3603.6 L2765 3637.6 L2759 3644.1 L2661 3644.1 L2655 3637.6 Z" fill="#fff" stroke="#000" stroke-width="4" stroke-linejoin="round" />
<line x1="2690" y1="3600.6" x2="2690" y2="3641.6" stroke="#000" stroke-width="1.5" />
<line x1="2695.7" y1="3600.6" x2="2695.7" y2="3641.6" stroke="#000" stroke-width="1.5" />
<line x1="2744.3" y1="3600.6" x2="2744.3" y2="3641.6" stroke="#000" stroke-width="1.5" />
<line x1="2750" y1="3600.6" x2="2750" y2="3641.6" stroke="#000" stroke-width="1.5" />
<rect x="2667.5" y="3647.1" width="86" height="13.5" rx="6.5" fill="#fff" stroke="#000" stroke-width="3.6" />
<path d="M2674 3665.6 L2674 3701.6 L2747 3701.6 L2747 3665.6" fill="none" stroke="#000" stroke-width="3.6" stroke-linejoin="round" />
<line x1="2678" y1="3697.6" x2="2743" y2="3697.6" stroke="#000" stroke-width="1.2" />
<line x1="2713" y1="3664.6" x2="2747" y2="3664.6" stroke="#000" stroke-width="3.6" />
<line x1="2679" y1="3701.6" x2="2679" y2="3709.6" stroke="#000" stroke-width="3" />
<line x1="2742" y1="3701.6" x2="2742" y2="3709.6" stroke="#000" stroke-width="3" />
<rect x="3313.3" y="108.4" width="438.7" height="625.3" rx="0" fill="#fff" stroke="#000" stroke-width="4.2" />
<line x1="3313.3" y1="131" x2="3752" y2="131" stroke="#000" stroke-width="4.2" />
<line x1="3313.3" y1="143.3" x2="3752" y2="143.3" stroke="#000" stroke-width="4.2" />
<line x1="3313.3" y1="209.7" x2="3752" y2="209.7" stroke="#000" stroke-width="4.2" />
<line x1="3313.3" y1="227" x2="3752" y2="227" stroke="#000" stroke-width="4.2" />
<rect x="3432" y="158" width="202" height="38.8" rx="19.400000000000006" fill="#fff" stroke="#000" stroke-width="4" />
<path d="M3515 159 L3515 156 A18 18 0 0 1 3551 156 L3551 159 Z" fill="#fff" stroke="none" stroke-width="0" stroke-linejoin="round" />
<rect x="3517" y="155" width="32" height="6" fill="#fff"/>
<path d="M3515 159 L3515 156 A18 18 0 0 1 3551 156 L3551 159" fill="none" stroke="#000" stroke-width="4.6" stroke-linejoin="round" />
<rect x="3364.2" y="256.2" width="338.8" height="438.8" rx="20" fill="#fff" stroke="#000" stroke-width="4" />
<circle cx="3521.7" cy="611.1" r="46.5" fill="#5aff00" stroke="#000" stroke-width="3.2"/>
<rect x="3321.6" y="829" width="438.2" height="626" rx="0" fill="#fff" stroke="#000" stroke-width="4.2" />
<line x1="3321.6" y1="851.6" x2="3759.8" y2="851.6" stroke="#000" stroke-width="4.2" />
<line x1="3321.6" y1="864.5" x2="3759.8" y2="864.5" stroke="#000" stroke-width="4.2" />
<line x1="3321.6" y1="930.3" x2="3759.8" y2="930.3" stroke="#000" stroke-width="4.2" />
<line x1="3321.6" y1="948.4" x2="3759.8" y2="948.4" stroke="#000" stroke-width="4.2" />
<rect x="3440.4" y="879.4" width="201.3" height="38.7" rx="19.350000000000023" fill="#fff" stroke="#000" stroke-width="4" />
<path d="M3523.1 880.4 L3523.1 877.4 A18 18 0 0 1 3559.1 877.4 L3559.1 880.4 Z" fill="#fff" stroke="none" stroke-width="0" stroke-linejoin="round" />
<rect x="3525.1" y="876.4" width="32" height="6" fill="#fff"/>
<path d="M3523.1 880.4 L3523.1 877.4 A18 18 0 0 1 3559.1 877.4 L3559.1 880.4" fill="none" stroke="#000" stroke-width="4.6" stroke-linejoin="round" />
<rect x="3372.6" y="976.2" width="337.4" height="438.8" rx="20" fill="#fff" stroke="#000" stroke-width="4" />
<circle cx="3485.6" cy="1325.9" r="46.8" fill="#5aff00" stroke="#000" stroke-width="3.2"/>
<circle cx="3594" cy="1325.9" r="46.8" fill="#00ffff" stroke="#000" stroke-width="3.2"/>
<g transform="translate(1245.6,1700.8)">
<rect x="2674.5" y="219.1" width="86.5" height="46" rx="7" fill="#fff" stroke="#000" stroke-width="5.5" />
<rect x="2738" y="224" width="18" height="38" rx="0" fill="#dfe7e4" stroke="#000" stroke-width="0" />
<rect x="2666" y="264" width="102.7" height="22" rx="9" fill="#fff" stroke="#000" stroke-width="5" />
<rect x="2740" y="267" width="22" height="16" rx="0" fill="#dfe7e4" stroke="#000" stroke-width="0" />
<path d="M2676 286 L2676 301 Q2676 312 2672 322 L2670 329 L2767 329 L2764 322 Q2759 312 2759 301 L2759 286 Z" fill="#fff" stroke="#000" stroke-width="5" stroke-linejoin="round" />
<line x1="2678" y1="301.7" x2="2757" y2="301.7" stroke="#000" stroke-width="1.6" />
<rect x="2738" y="303" width="19" height="24" rx="0" fill="#dfe7e4" stroke="#000" stroke-width="0" />
<rect x="2668.4" y="329" width="99" height="24" rx="0" fill="#fff" stroke="#000" stroke-width="0" />
<rect x="2740" y="330" width="24" height="22" rx="0" fill="#dfe7e4" stroke="#000" stroke-width="0" />
<line x1="2668.4" y1="326" x2="2668.4" y2="331" stroke="#000" stroke-width="5" />
<line x1="2668.4" y1="342" x2="2668.4" y2="356" stroke="#000" stroke-width="5" />
<line x1="2767.4" y1="326" x2="2767.4" y2="356" stroke="#000" stroke-width="5" />
<line x1="2693" y1="333.5" x2="2764" y2="332.5" stroke="#000" stroke-width="1.6" />
<rect x="2667.4" y="353" width="101.6" height="74.5" rx="0" fill="#fff" stroke="#000" stroke-width="0" />
<line x1="2667.4" y1="353" x2="2667.4" y2="427.5" stroke="#000" stroke-width="5.5" />
<line x1="2769" y1="353" x2="2769" y2="427.5" stroke="#000" stroke-width="5.5" />
<line x1="2670" y1="353.5" x2="2766" y2="353.5" stroke="#000" stroke-width="2.2" />
<rect x="2740" y="356" width="24" height="69" rx="0" fill="#dfe7e4" stroke="#000" stroke-width="0" />
<rect x="2649.3" y="427.5" width="138.9" height="45.3" rx="3" fill="#fff" stroke="#000" stroke-width="5.5" />
<rect x="2770" y="431" width="15" height="38" rx="0" fill="#dfe7e4" stroke="#000" stroke-width="0" />
<line x1="2703.7" y1="430" x2="2703.7" y2="470" stroke="#000" stroke-width="1.5" />
<line x1="2708.7" y1="430" x2="2708.7" y2="470" stroke="#000" stroke-width="1.5" />
<line x1="2772" y1="430" x2="2772" y2="470" stroke="#000" stroke-width="1.5" />
<line x1="2775" y1="430" x2="2775" y2="470" stroke="#000" stroke-width="1.5" />
<line x1="2652" y1="431" x2="2786" y2="431" stroke="#000" stroke-width="1.6" />
<rect x="2656.4" y="472.8" width="122.8" height="15.1" rx="6" fill="#fff" stroke="#000" stroke-width="4.5" />
<rect x="2659.4" y="487.9" width="117.7" height="40.2" rx="2" fill="#fff" stroke="#000" stroke-width="5.5" />
<rect x="2748" y="491" width="26" height="35" rx="0" fill="#dfe7e4" stroke="#000" stroke-width="0" />
<line x1="2672" y1="492" x2="2758" y2="492" stroke="#000" stroke-width="4" />
<rect x="2666.4" y="528.1" width="106.7" height="18.1" rx="2" fill="#fff" stroke="#000" stroke-width="5.5" />
<rect x="2745" y="531" width="25" height="13" rx="0" fill="#dfe7e4" stroke="#000" stroke-width="0" />
</g>
<g transform="translate(1245.2,1700.2)">
<rect x="2689.6" y="568.3" width="60.1" height="224.5" rx="0" fill="#fff" stroke="#000" stroke-width="0" />
<rect x="2728.8" y="571" width="17.4" height="219" rx="0" fill="#dfe7e4" stroke="#000" stroke-width="0" />
<line x1="2694.5" y1="571" x2="2694.5" y2="790" stroke="#000" stroke-width="1.4" />
<line x1="2721.8" y1="571" x2="2721.8" y2="690" stroke="#000" stroke-width="1.6" />
<line x1="2721.8" y1="735" x2="2721.8" y2="790" stroke="#000" stroke-width="1.2" />
<line x1="2689.6" y1="568.3" x2="2749.7" y2="568.3" stroke="#000" stroke-width="5.6" />
<line x1="2689.6" y1="792.8" x2="2749.7" y2="792.8" stroke="#000" stroke-width="5.6" />
<line x1="2749.7" y1="568.3" x2="2749.7" y2="792.8" stroke="#000" stroke-width="5.6" />
<line x1="2689.6" y1="568.3" x2="2689.6" y2="690" stroke="#000" stroke-width="5.6" />
<line x1="2689.6" y1="701.2" x2="2689.6" y2="792.8" stroke="#000" stroke-width="5.6" />
<line x1="2691" y1="652.2" x2="2699" y2="652.2" stroke="#000" stroke-width="2.5" />
<line x1="2717.8" y1="652.2" x2="2725.8" y2="652.2" stroke="#000" stroke-width="2.5" />
<line x1="2741" y1="652.2" x2="2749" y2="652.2" stroke="#000" stroke-width="2.5" />
<rect x="2694.5" y="707" width="13" height="27" rx="0" fill="#dfe7e4" stroke="#000" stroke-width="0" />
<rect x="2707.8" y="705.4" width="25.9" height="30.1" rx="2" fill="#fff" stroke="#000" stroke-width="5" />
</g>
<g transform="translate(1242.6,1691.3)">
<rect x="2698.1" y="826.2" width="45.2" height="58.5" rx="0" fill="#fff" stroke="#000" stroke-width="5.5" />
<rect x="2729" y="829" width="11" height="53" rx="0" fill="#dfe7e4" stroke="#000" stroke-width="0" />
<path d="M2691.7 885.6 L2750.7 885.6 L2756.2 897 L2684.3 897 Z" fill="#fff" stroke="#000" stroke-width="5" stroke-linejoin="round" />
<rect x="2679.7" y="897.6" width="83" height="21.3" rx="10" fill="#fff" stroke="#000" stroke-width="5" />
<rect x="2700" y="905" width="55" height="10" rx="0" fill="#dfe7e4" stroke="#000" stroke-width="0" />
<rect x="2681.5" y="918.9" width="79.3" height="9.1" rx="3" fill="#fff" stroke="#000" stroke-width="4.5" />
<rect x="2707" y="928" width="34" height="101" rx="0" fill="#fff" stroke="#000" stroke-width="4" />
<rect x="2729" y="930" width="10" height="97" rx="0" fill="#dfe7e4" stroke="#000" stroke-width="0" />
<path d="M2696 947 Q2683 954 2695 961 L2748 946 Q2761 939 2749 932 L2697 947" fill="none" stroke="#000" stroke-width="6" stroke-linejoin="round" />
<path d="M2696 977 Q2683 984 2695 991 L2748 976 Q2761 969 2749 962 L2697 977" fill="none" stroke="#000" stroke-width="6" stroke-linejoin="round" />
<path d="M2696 1007 Q2683 1014 2695 1021 L2748 1006 Q2761 999 2749 992 L2697 1007" fill="none" stroke="#000" stroke-width="6" stroke-linejoin="round" />
<path d="M2690 930 L2752 928" fill="none" stroke="#000" stroke-width="5" stroke-linejoin="round" />
<rect x="2685.2" y="1028.6" width="72.9" height="21.3" rx="0" fill="#fff" stroke="#000" stroke-width="5.5" />
<rect x="2733" y="1031" width="22" height="17" rx="0" fill="#dfe7e4" stroke="#000" stroke-width="0" />
<rect x="2693.5" y="1049.9" width="57.2" height="29.5" rx="0" fill="#fff" stroke="#000" stroke-width="5.5" />
<rect x="2709" y="1052" width="27" height="26" rx="0" fill="#dfe7e4" stroke="#000" stroke-width="0" />
<path d="M2718.5 1055 L2722.5 1055 L2725 1079 L2716 1079 Z" fill="#000" stroke="none" stroke-width="0" stroke-linejoin="round" />
<rect x="2676.9" y="1079.4" width="90.4" height="40.6" rx="0" fill="#fff" stroke="#000" stroke-width="5.5" />
<rect x="2745" y="1082" width="20" height="36" rx="0" fill="#dfe7e4" stroke="#000" stroke-width="0" />
</g>
<g transform="translate(3417.8,2817.4) rotate(45)">
<rect x="395" y="-58" width="65" height="116" rx="0" fill="#fff" stroke="#000" stroke-width="5.5" />
<rect x="402" y="40" width="53" height="10" rx="0" fill="#dfe7e4" stroke="#000" stroke-width="0" />
<line x1="405" y1="45" x2="455" y2="45" stroke="#000" stroke-width="1.6" />
<line x1="405" y1="-45" x2="455" y2="-45" stroke="#000" stroke-width="1.6" />
<line x1="400" y1="-50" x2="400" y2="50" stroke="#000" stroke-width="1.6" />
<rect x="378" y="-72" width="20" height="144" rx="8" fill="#fff" stroke="#000" stroke-width="4.5" />
<path d="M0 -85 L37 -85 L37 -100 L90 -100 L90 -93 L133 -93 L133 -101 L163 -101 L163 -97 L190 -97 L190 -101 L217 -101 L217 -88 L310 -88 L310 -96 L372 -96 Q384 -60 384 0 Q384 60 372 96 L310 96 L310 88 L217 88 L217 101 L190 101 L190 97 L163 97 L163 101 L133 101 L133 93 L90 93 L90 100 L37 100 L37 85 L0 85 Z" fill="#fff" stroke="none" stroke-width="0" stroke-linejoin="round" />
<rect x="2" y="76" width="33" height="6.5" rx="0" fill="#dfe7e4" stroke="#000" stroke-width="0" />
<rect x="39" y="91" width="49" height="6.5" rx="0" fill="#dfe7e4" stroke="#000" stroke-width="0" />
<rect x="92" y="84" width="39" height="6.5" rx="0" fill="#dfe7e4" stroke="#000" stroke-width="0" />
<rect x="135" y="92" width="26" height="6.5" rx="0" fill="#dfe7e4" stroke="#000" stroke-width="0" />
<rect x="165" y="88" width="23" height="6.5" rx="0" fill="#dfe7e4" stroke="#000" stroke-width="0" />
<rect x="192" y="92" width="23" height="6.5" rx="0" fill="#dfe7e4" stroke="#000" stroke-width="0" />
<rect x="219" y="80" width="89" height="5.5" rx="0" fill="#dfe7e4" stroke="#000" stroke-width="0" />
<path d="M0 -85 L37 -85 L37 -100 L90 -100 L90 -93 L133 -93 L133 -101 L163 -101 L163 -97 L190 -97 L190 -101 L217 -101 L217 -88 L310 -88 L310 -96 L372 -96 Q384 -60 384 0 Q384 60 372 96 L310 96 L310 88 L217 88 L217 101 L190 101 L190 97 L163 97 L163 101 L133 101 L133 93 L90 93 L90 100 L37 100 L37 85 L0 85 Z" fill="none" stroke="#000" stroke-width="5.5" stroke-linejoin="round" />
<line x1="37" y1="-83" x2="37" y2="83" stroke="#000" stroke-width="2.4" />
<line x1="90" y1="-91" x2="90" y2="91" stroke="#000" stroke-width="2.4" />
<line x1="133" y1="-91" x2="133" y2="91" stroke="#000" stroke-width="2.4" />
<line x1="163" y1="-95" x2="163" y2="95" stroke="#000" stroke-width="2.4" />
<line x1="190" y1="-95" x2="190" y2="95" stroke="#000" stroke-width="2.4" />
<line x1="217" y1="-86" x2="217" y2="86" stroke="#000" stroke-width="2.4" />
<line x1="41" y1="-79" x2="41" y2="79" stroke="#000" stroke-width="1.2" />
<line x1="94" y1="-87" x2="94" y2="87" stroke="#000" stroke-width="1.2" />
<line x1="137" y1="-87" x2="137" y2="87" stroke="#000" stroke-width="1.2" />
<line x1="186" y1="-91" x2="186" y2="91" stroke="#000" stroke-width="1.2" />
<line x1="4" y1="-80" x2="4" y2="80" stroke="#000" stroke-width="3.5" />
<line x1="222" y1="-62" x2="372" y2="-62" stroke="#000" stroke-width="1.6" />
<line x1="222" y1="62" x2="372" y2="62" stroke="#000" stroke-width="1.6" />
<line x1="250" y1="-70" x2="255" y2="-55" stroke="#000" stroke-width="1.4" />
<line x1="265" y1="60" x2="270" y2="75" stroke="#000" stroke-width="1.4" />
</g>
<g transform="translate(1253,1687.5)">
<path d="M2640 1437.8 L2776 1437.8 Q2779.7 1437.8 2779.7 1442 L2779.7 1473 Q2779.7 1480 2772 1486 L2771 1606 Q2771 1614 2780 1614.5 Q2815 1616 2815 1645.4 Q2815 1676 2780 1677.5 Q2773.4 1679 2773.4 1686 L2773.4 1761 Q2773.4 1765 2769 1765 L2650 1765 Q2646.3 1765 2646.3 1761 L2646.3 1696 Q2644 1684 2632 1680 L2568 1677 Q2540 1676 2540 1648 Q2540 1628 2558 1614 L2525.5 1576.2 Q2522 1573 2516 1573 L2463.8 1523.3 L2563.3 1423.9 L2616.1 1478 Q2626 1489 2635 1478 Q2638 1474 2637.5 1466 L2637 1441 Q2637 1437.8 2640 1437.8 Z" fill="#fff" stroke="#000" stroke-width="5.5" stroke-linejoin="round" />
<path d="M2742 1442 L2774 1442 L2774 1760 L2758 1760 L2758 1520 Q2758 1505 2742 1500 Z" fill="#dfe7e4" stroke="none" stroke-width="0" stroke-linejoin="round" />
<path d="M2470 1523 L2560 1430 L2572 1442 L2490 1530 Q2500 1550 2525 1570 L2516 1573 Z" fill="#dfe7e4" stroke="none" stroke-width="0" stroke-linejoin="round" />
<path d="M2640 1437.8 L2776 1437.8 Q2779.7 1437.8 2779.7 1442 L2779.7 1473 Q2779.7 1480 2772 1486 L2771 1606 Q2771 1614 2780 1614.5 Q2815 1616 2815 1645.4 Q2815 1676 2780 1677.5 Q2773.4 1679 2773.4 1686 L2773.4 1761 Q2773.4 1765 2769 1765 L2650 1765 Q2646.3 1765 2646.3 1761 L2646.3 1696 Q2644 1684 2632 1680 L2568 1677 Q2540 1676 2540 1648 Q2540 1628 2558 1614 L2525.5 1576.2 Q2522 1573 2516 1573 L2463.8 1523.3 L2563.3 1423.9 L2616.1 1478 Q2626 1489 2635 1478 Q2638 1474 2637.5 1466 L2637 1441 Q2637 1437.8 2640 1437.8 Z" fill="none" stroke="#000" stroke-width="5.5" stroke-linejoin="round" />
<line x1="2598.5" y1="1498.2" x2="2645" y2="1544.7" stroke="#000" stroke-width="1.6" />
<line x1="2535.6" y1="1562.4" x2="2651.4" y2="1675.6" stroke="#000" stroke-width="1.6" />
<line x1="2671.5" y1="1481.8" x2="2671.5" y2="1544.7" stroke="#000" stroke-width="1.6" />
<line x1="2758.3" y1="1482" x2="2758.3" y2="1757" stroke="#000" stroke-width="1.6" />
<line x1="2662.7" y1="1697" x2="2662.7" y2="1757.4" stroke="#000" stroke-width="1.6" />
<line x1="2766" y1="1615" x2="2766" y2="1676" stroke="#000" stroke-width="1.4" />
<rect x="2681.6" y="1504.5" width="59.1" height="202.5" rx="11" fill="#fff" stroke="#000" stroke-width="2.2" />
<rect x="2685.5" y="1508.5" width="51.3" height="194.5" rx="9" fill="none" stroke="#000" stroke-width="1.2" />
<rect x="2692" y="1513" width="6.8" height="185" rx="0" fill="#fff" stroke="#000" stroke-width="2.4" />
<text transform="translate(2702,1516) rotate(90)" font-size="36" font-weight="bold" font-style="italic" font-family="Liberation Sans" fill="#fff" stroke="#000" stroke-width="2.6" stroke-linejoin="round" textLength="180" lengthAdjust="spacingAndGlyphs">INTERSPIRO</text>
</g>
<g transform="translate(3427.4,3187.4) rotate(45)">
<rect x="122" y="-59" width="56" height="118" rx="0" fill="#fff" stroke="#000" stroke-width="5.5" />
<rect x="178" y="-51" width="17" height="102" rx="0" fill="#fff" stroke="#000" stroke-width="5.5" />
<rect x="75" y="-64" width="16" height="128" rx="0" fill="#fff" stroke="#000" stroke-width="5" />
<rect x="89" y="-81" width="33" height="162" rx="6" fill="#fff" stroke="#000" stroke-width="5.5" />
<rect x="18.5" y="-68" width="57" height="136" rx="8" fill="#fff" stroke="#000" stroke-width="5.5" />
<rect x="0" y="-61" width="18.5" height="122" rx="0" fill="#fff" stroke="#000" stroke-width="5.5" />
<rect x="3" y="45" width="12.5" height="12" rx="0" fill="#dfe7e4" stroke="#000" stroke-width="0" />
<rect x="21.5" y="52" width="50.5" height="12" rx="0" fill="#dfe7e4" stroke="#000" stroke-width="0" />
<rect x="125" y="43" width="50" height="12" rx="0" fill="#dfe7e4" stroke="#000" stroke-width="0" />
<rect x="181" y="35" width="11" height="12" rx="0" fill="#dfe7e4" stroke="#000" stroke-width="0" />
<line x1="22" y1="-50" x2="72" y2="-50" stroke="#000" stroke-width="1.6" />
<line x1="125" y1="45" x2="175" y2="45" stroke="#000" stroke-width="1.6" />
<line x1="30" y1="30" x2="70" y2="30" stroke="#000" stroke-width="4.5" />
<line x1="95" y1="-55" x2="118" y2="-55" stroke="#000" stroke-width="1.6" />
</g>
<rect x="3922.3" y="3489.6" width="72.7" height="22" rx="3" fill="#fff" stroke="#000" stroke-width="5.5" />
<rect x="3976" y="3493" width="16" height="16" rx="0" fill="#dfe7e4" stroke="#000" stroke-width="0" />
<rect x="3916.7" y="3509.2" width="83.9" height="47" rx="3" fill="#fff" stroke="#000" stroke-width="5.5" />
<rect x="3980" y="3513" width="17" height="40" rx="0" fill="#dfe7e4" stroke="#000" stroke-width="0" />
<line x1="3928" y1="3558.5" x2="3992" y2="3558.5" stroke="#000" stroke-width="1.6" />
<line x1="3928" y1="3562" x2="3985" y2="3562" stroke="#000" stroke-width="1.6" />
<rect x="3910.4" y="3559.5" width="97.9" height="14.7" rx="7" fill="#fff" stroke="#000" stroke-width="4.5" />
<rect x="3885.2" y="3573.5" width="148.3" height="34.3" rx="8" fill="#fff" stroke="#000" stroke-width="5.5" />
<rect x="3993" y="3577" width="36" height="27" rx="0" fill="#dfe7e4" stroke="#000" stroke-width="0" />
<path d="M3895 3580 Q3945 3572 3960 3582 Q3990 3572 4025 3580" fill="none" stroke="#000" stroke-width="1.6" stroke-linejoin="round" />
<path d="M3895 3602 Q3945 3612 3960 3602 Q3990 3612 4025 3602" fill="none" stroke="#000" stroke-width="1.6" stroke-linejoin="round" />
<rect x="3893" y="3607.8" width="132" height="7.7" rx="0" fill="#fff" stroke="#000" stroke-width="2" />
<rect x="3887.3" y="3615.5" width="144.1" height="16.8" rx="8.4" fill="#fff" stroke="#000" stroke-width="5" />
<rect x="3891.5" y="3632.3" width="134.3" height="46.2" rx="4" fill="#fff" stroke="#000" stroke-width="5.5" />
<rect x="3991.5" y="3636" width="30" height="40" rx="0" fill="#dfe7e4" stroke="#000" stroke-width="0" />
<line x1="3898" y1="3635" x2="3995" y2="3635" stroke="#000" stroke-width="4.5" />
<rect x="3897.8" y="3678.5" width="124.5" height="18.8" rx="3" fill="#fff" stroke="#000" stroke-width="5.5" />
<rect x="3989" y="3681" width="30" height="14" rx="0" fill="#dfe7e4" stroke="#000" stroke-width="0" />
<circle cx="2525" cy="3681.4" r="53" fill="#fff" stroke="#000" stroke-width="3.6"/>
<path transform="translate(2486.1,3706.5) scale(70)" d="M0.373 0 L0.285 0 L0.285 -0.560 C0.264 -0.540 0.236 -0.520 0.203 -0.500 C0.170 -0.480 0.140 -0.465 0.109 -0.446 L0.109 -0.531 C0.152 -0.551 0.199 -0.579 0.250 -0.616 C0.300 -0.653 0.330 -0.690 0.341 -0.716 L0.373 -0.716 Z" fill="#000"/>
<text x="2525" y="3706.5" font-size="70" font-family="Liberation Sans" fill="#000">8</text>
<line x1="3584.3" y1="460.1" x2="3830.8" y2="460.1" stroke="#000" stroke-width="3.6" />
<line x1="3592.7" y1="1180.7" x2="3839.2" y2="1180.7" stroke="#000" stroke-width="3.6" />
<line x1="109" y1="372" x2="122" y2="478" stroke="#000" stroke-width="2.6" />
<circle cx="122" cy="478" r="2.2" fill="#000"/>
<line x1="454" y1="388.7" x2="515.7" y2="525.7" stroke="#000" stroke-width="2.6" />
<circle cx="515.7" cy="525.7" r="2.2" fill="#000"/>
<line x1="833.4" y1="374.7" x2="901.6" y2="520.1" stroke="#000" stroke-width="2.6" />
<circle cx="901.6" cy="520.1" r="2.2" fill="#000"/>
<line x1="1294.7" y1="377.5" x2="1356.3" y2="517.3" stroke="#000" stroke-width="2.6" />
<circle cx="1356.3" cy="517.3" r="2.2" fill="#000"/>
<line x1="290.8" y1="939.6" x2="413.9" y2="1156.6" stroke="#000" stroke-width="2.6" />
<circle cx="413.9" cy="1156.6" r="2.2" fill="#000"/>
<line x1="693.5" y1="939.6" x2="812.1" y2="1146.5" stroke="#000" stroke-width="2.6" />
<circle cx="812.1" cy="1146.5" r="2.2" fill="#000"/>
<line x1="1083.9" y1="925.6" x2="1200.2" y2="1159.4" stroke="#000" stroke-width="2.6" />
<circle cx="1200.2" cy="1159.4" r="2.2" fill="#000"/>
<line x1="1534.1" y1="925.6" x2="1652.7" y2="1135.9" stroke="#000" stroke-width="2.6" />
<circle cx="1652.7" cy="1135.9" r="2.2" fill="#000"/>
<line x1="1302" y1="1725.4" x2="1212.5" y2="1713" stroke="#000" stroke-width="2.6" />
<circle cx="1212.5" cy="1713" r="2.2" fill="#000"/>
<line x1="683.5" y1="2774.6" x2="777.4" y2="2970.4" stroke="#000" stroke-width="2.6" />
<circle cx="777.4" cy="2970.4" r="2.2" fill="#000"/>
<line x1="1285.2" y1="2402.7" x2="1387" y2="2437.4" stroke="#000" stroke-width="2.6" />
<circle cx="1387" cy="2437.4" r="2.2" fill="#000"/>
<line x1="1304.8" y1="2752.3" x2="1402.7" y2="2956.4" stroke="#000" stroke-width="2.6" />
<circle cx="1402.7" cy="2956.4" r="2.2" fill="#000"/>
<line x1="335.6" y1="3276.5" x2="423.4" y2="3240" stroke="#000" stroke-width="2.6" />
<circle cx="423.4" cy="3240" r="2.2" fill="#000"/>
<line x1="726" y1="3724" x2="811" y2="3690.4" stroke="#000" stroke-width="2.6" />
<circle cx="811" cy="3690.4" r="2.2" fill="#000"/>
<line x1="1318.8" y1="3714.4" x2="1411" y2="3679.2" stroke="#000" stroke-width="2.6" />
<circle cx="1411" cy="3679.2" r="2.2" fill="#000"/>
<line x1="2544.3" y1="337.3" x2="2694.2" y2="335.6" stroke="#000" stroke-width="2.6" />
<circle cx="2694.2" cy="335.6" r="2.2" fill="#000"/>
<line x1="2544.9" y1="524.6" x2="2709.9" y2="476.5" stroke="#000" stroke-width="2.6" />
<circle cx="2709.9" cy="476.5" r="2.2" fill="#000"/>
<line x1="2631" y1="693.5" x2="2741.7" y2="699.1" stroke="#000" stroke-width="2.6" />
<circle cx="2741.7" cy="699.1" r="2.2" fill="#000"/>
<line x1="2568.4" y1="926.8" x2="2639.4" y2="926.8" stroke="#000" stroke-width="2.6" />
<circle cx="2639.4" cy="926.8" r="2.2" fill="#000"/>
<line x1="2852.2" y1="938.8" x2="2744.5" y2="907.6" stroke="#000" stroke-width="2.6" />
<circle cx="2744.5" cy="907.6" r="2.2" fill="#000"/>
<line x1="2473.7" y1="1227.2" x2="2345.3" y2="1310.3" stroke="#000" stroke-width="2.6" />
<circle cx="2345.3" cy="1310.3" r="2.2" fill="#000"/>
<line x1="2414.8" y1="1535.3" x2="2423.3" y2="1414.5" stroke="#000" stroke-width="2.6" />
<circle cx="2423.3" cy="1414.5" r="2.2" fill="#000"/>
<line x1="2595.5" y1="1719.2" x2="2705.5" y2="1649.2" stroke="#000" stroke-width="2.6" />
<circle cx="2705.5" cy="1649.2" r="2.2" fill="#000"/>
<line x1="2344.5" y1="1941" x2="2488" y2="2031.7" stroke="#000" stroke-width="2.6" />
<circle cx="2488" cy="2031.7" r="2.2" fill="#000"/>
<line x1="2350.5" y1="2184.2" x2="2532.3" y2="2201.8" stroke="#000" stroke-width="2.6" />
<circle cx="2532.3" cy="2201.8" r="2.2" fill="#000"/>
<line x1="2805" y1="2615.6" x2="2729.6" y2="2583.9" stroke="#000" stroke-width="2.6" />
<circle cx="2729.6" cy="2583.9" r="2.2" fill="#000"/>
<line x1="2816" y1="3259.5" x2="2705.2" y2="3380.3" stroke="#000" stroke-width="2.6" />
<circle cx="2705.2" cy="3380.3" r="2.2" fill="#000"/>
<line x1="2597.6" y1="3691.8" x2="2708.3" y2="3655.3" stroke="#000" stroke-width="2.6" />
<circle cx="2708.3" cy="3655.3" r="2.2" fill="#000"/>
<line x1="3790" y1="2038.8" x2="3938.6" y2="2036.2" stroke="#000" stroke-width="2.6" />
<circle cx="3938.6" cy="2036.2" r="2.2" fill="#000"/>
<line x1="3790" y1="2226" x2="3955.3" y2="2178.8" stroke="#000" stroke-width="2.6" />
<circle cx="3955.3" cy="2178.8" r="2.2" fill="#000"/>
<line x1="3790" y1="2390.5" x2="3988.9" y2="2400.2" stroke="#000" stroke-width="2.6" />
<circle cx="3988.9" cy="2400.2" r="2.2" fill="#000"/>
<line x1="3806.3" y1="2618.3" x2="3882.4" y2="2618.3" stroke="#000" stroke-width="2.6" />
<circle cx="3882.4" cy="2618.3" r="2.2" fill="#000"/>
<line x1="4180.5" y1="2651.8" x2="3987.6" y2="2599" stroke="#000" stroke-width="2.6" />
<circle cx="3987.6" cy="2599" r="2.2" fill="#000"/>
<line x1="3732.4" y1="2919.7" x2="3604" y2="3002.8" stroke="#000" stroke-width="2.6" />
<circle cx="3604" cy="3002.8" r="2.2" fill="#000"/>
<line x1="3673.5" y1="3227.8" x2="3682" y2="3107" stroke="#000" stroke-width="2.6" />
<circle cx="3682" cy="3107" r="2.2" fill="#000"/>
<line x1="3811" y1="3431.8" x2="3959.1" y2="3336.2" stroke="#000" stroke-width="2.6" />
<circle cx="3959.1" cy="3336.2" r="2.2" fill="#000"/>
<line x1="3324.1" y1="3283.6" x2="3457.3" y2="3254.3" stroke="#000" stroke-width="2.6" />
<circle cx="3457.3" cy="3254.3" r="2.2" fill="#000"/>
<line x1="3408.1" y1="3366.9" x2="3488" y2="3281.6" stroke="#000" stroke-width="2.6" />
<circle cx="3488" cy="3281.6" r="2.2" fill="#000"/>
<line x1="3477.7" y1="3435.2" x2="3503.7" y2="3295.2" stroke="#000" stroke-width="2.6" />
<circle cx="3503.7" cy="3295.2" r="2.2" fill="#000"/>
<line x1="4131.2" y1="3484.4" x2="3989.8" y2="3565" stroke="#000" stroke-width="2.6" />
<circle cx="3989.8" cy="3565" r="2.2" fill="#000"/>
<line x1="4117.5" y1="3590.2" x2="3983" y2="3592.3" stroke="#000" stroke-width="2.6" />
<circle cx="3983" cy="3592.3" r="2.2" fill="#000"/>
<line x1="4123" y1="3674.2" x2="3986.4" y2="3619.6" stroke="#000" stroke-width="2.6" />
<circle cx="3986.4" cy="3619.6" r="2.2" fill="#000"/>
<circle cx="115.6" cy="308.7" r="62.3" fill="#e6ff14" stroke="#000" stroke-width="3.6"/>
<path transform="translate(72.2,336.6) scale(78)" d="M0.373 0 L0.285 0 L0.285 -0.560 C0.264 -0.540 0.236 -0.520 0.203 -0.500 C0.170 -0.480 0.140 -0.465 0.109 -0.446 L0.109 -0.531 C0.152 -0.551 0.199 -0.579 0.250 -0.616 C0.300 -0.653 0.330 -0.690 0.341 -0.716 L0.373 -0.716 Z" fill="#000"/>
<text x="115.6" y="336.6" font-size="78" font-family="Liberation Sans" fill="#000">5</text>
<circle cx="427.3" cy="330" r="62.3" fill="#e6ff14" stroke="#000" stroke-width="3.6"/>
<path transform="translate(383.9,357.9) scale(78)" d="M0.373 0 L0.285 0 L0.285 -0.560 C0.264 -0.540 0.236 -0.520 0.203 -0.500 C0.170 -0.480 0.140 -0.465 0.109 -0.446 L0.109 -0.531 C0.152 -0.551 0.199 -0.579 0.250 -0.616 C0.300 -0.653 0.330 -0.690 0.341 -0.716 L0.373 -0.716 Z" fill="#000"/>
<text x="427.3" y="357.9" font-size="78" font-family="Liberation Sans" fill="#000">5</text>
<circle cx="783.6" cy="330" r="62.3" fill="#e6ff14" stroke="#000" stroke-width="3.6"/>
<path transform="translate(740.2,357.9) scale(78)" d="M0.373 0 L0.285 0 L0.285 -0.560 C0.264 -0.540 0.236 -0.520 0.203 -0.500 C0.170 -0.480 0.140 -0.465 0.109 -0.446 L0.109 -0.531 C0.152 -0.551 0.199 -0.579 0.250 -0.616 C0.300 -0.653 0.330 -0.690 0.341 -0.716 L0.373 -0.716 Z" fill="#000"/>
<text x="783.6" y="357.9" font-size="78" font-family="Liberation Sans" fill="#000">5</text>
<circle cx="1267.9" cy="320.5" r="62.3" fill="#e6ff14" stroke="#000" stroke-width="3.6"/>
<path transform="translate(1224.5,348.4) scale(78)" d="M0.373 0 L0.285 0 L0.285 -0.560 C0.264 -0.540 0.236 -0.520 0.203 -0.500 C0.170 -0.480 0.140 -0.465 0.109 -0.446 L0.109 -0.531 C0.152 -0.551 0.199 -0.579 0.250 -0.616 C0.300 -0.653 0.330 -0.690 0.341 -0.716 L0.373 -0.716 Z" fill="#000"/>
<text x="1267.9" y="348.4" font-size="78" font-family="Liberation Sans" fill="#000">5</text>
<circle cx="250.6" cy="876.4" r="62.3" fill="#fff" stroke="#000" stroke-width="3.6"/>
<text x="207.2" y="904.3" font-size="78" font-family="Liberation Sans" fill="#000">2</text>
<text x="250.6" y="904.3" font-size="78" font-family="Liberation Sans" fill="#000">2</text>
<circle cx="662.8" cy="874.2" r="62.3" fill="#fff" stroke="#000" stroke-width="3.6"/>
<text x="619.4" y="902.1" font-size="78" font-family="Liberation Sans" fill="#000">2</text>
<text x="662.8" y="902.1" font-size="78" font-family="Liberation Sans" fill="#000">3</text>
<circle cx="1036.4" cy="876.4" r="62.3" fill="#fff" stroke="#000" stroke-width="3.6"/>
<text x="993" y="904.3" font-size="78" font-family="Liberation Sans" fill="#000">2</text>
<text x="1036.4" y="904.3" font-size="78" font-family="Liberation Sans" fill="#000">4</text>
<circle cx="1502.3" cy="865.2" r="62.3" fill="#fff" stroke="#000" stroke-width="3.6"/>
<text x="1458.9" y="893.1" font-size="78" font-family="Liberation Sans" fill="#000">2</text>
<text x="1502.3" y="893.1" font-size="78" font-family="Liberation Sans" fill="#000">3</text>
<circle cx="1364" cy="1728.2" r="62.3" fill="#4ed8ff" stroke="#000" stroke-width="3.6"/>
<text x="1342.3" y="1756.1" font-size="78" font-family="Liberation Sans" fill="#000">5</text>
<circle cx="653.3" cy="2715.9" r="62.3" fill="#fff" stroke="#000" stroke-width="3.6"/>
<text x="631.6" y="2743.8" font-size="78" font-family="Liberation Sans" fill="#000">3</text>
<circle cx="1223.2" cy="2398.2" r="62.3" fill="#4ed8ff" stroke="#000" stroke-width="3.6"/>
<path transform="translate(1179.8,2426.1) scale(78)" d="M0.373 0 L0.285 0 L0.285 -0.560 C0.264 -0.540 0.236 -0.520 0.203 -0.500 C0.170 -0.480 0.140 -0.465 0.109 -0.446 L0.109 -0.531 C0.152 -0.551 0.199 -0.579 0.250 -0.616 C0.300 -0.653 0.330 -0.690 0.341 -0.716 L0.373 -0.716 Z" fill="#000"/>
<text x="1223.2" y="2426.1" font-size="78" font-family="Liberation Sans" fill="#000">5</text>
<circle cx="1261.2" cy="2703" r="62.3" fill="#fff" stroke="#000" stroke-width="3.6"/>
<text x="1239.5" y="2730.9" font-size="78" font-family="Liberation Sans" fill="#000">4</text>
<circle cx="274.6" cy="3300.5" r="62.3" fill="#e6ff14" stroke="#000" stroke-width="3.6"/>
<path transform="translate(231.2,3328.4) scale(78)" d="M0.373 0 L0.285 0 L0.285 -0.560 C0.264 -0.540 0.236 -0.520 0.203 -0.500 C0.170 -0.480 0.140 -0.465 0.109 -0.446 L0.109 -0.531 C0.152 -0.551 0.199 -0.579 0.250 -0.616 C0.300 -0.653 0.330 -0.690 0.341 -0.716 L0.373 -0.716 Z" fill="#000"/>
<text x="274.6" y="3328.4" font-size="78" font-family="Liberation Sans" fill="#000">8</text>
<circle cx="663.3" cy="3735.1" r="62.3" fill="#e6ff14" stroke="#000" stroke-width="3.6"/>
<path transform="translate(619.9,3763) scale(78)" d="M0.373 0 L0.285 0 L0.285 -0.560 C0.264 -0.540 0.236 -0.520 0.203 -0.500 C0.170 -0.480 0.140 -0.465 0.109 -0.446 L0.109 -0.531 C0.152 -0.551 0.199 -0.579 0.250 -0.616 C0.300 -0.653 0.330 -0.690 0.341 -0.716 L0.373 -0.716 Z" fill="#000"/>
<text x="663.3" y="3763" font-size="78" font-family="Liberation Sans" fill="#000">8</text>
<circle cx="1256.7" cy="3723.9" r="62.3" fill="#e6ff14" stroke="#000" stroke-width="3.6"/>
<path transform="translate(1213.3,3751.8) scale(78)" d="M0.373 0 L0.285 0 L0.285 -0.560 C0.264 -0.540 0.236 -0.520 0.203 -0.500 C0.170 -0.480 0.140 -0.465 0.109 -0.446 L0.109 -0.531 C0.152 -0.551 0.199 -0.579 0.250 -0.616 C0.300 -0.653 0.330 -0.690 0.341 -0.716 L0.373 -0.716 Z" fill="#000"/>
<text x="1256.7" y="3751.8" font-size="78" font-family="Liberation Sans" fill="#000">8</text>
<circle cx="2354.2" cy="337.3" r="62.3" fill="#fff" stroke="#000" stroke-width="3.6"/>
<text x="2332.5" y="365.2" font-size="78" font-family="Liberation Sans" fill="#000">6</text>
<circle cx="2482.8" cy="338.4" r="62.3" fill="#fff" stroke="#000" stroke-width="3.6"/>
<text x="2461.1" y="366.3" font-size="78" font-family="Liberation Sans" fill="#000">7</text>
<circle cx="2481.7" cy="536.9" r="62.3" fill="#84ff00" stroke="#000" stroke-width="3.6"/>
<text x="2460" y="564.8" font-size="78" font-family="Liberation Sans" fill="#000">8</text>
<circle cx="2569.5" cy="686.8" r="62.3" fill="#fff" stroke="#000" stroke-width="3.6"/>
<text x="2547.8" y="714.7" font-size="78" font-family="Liberation Sans" fill="#000">9</text>
<circle cx="2507.4" cy="926.2" r="62.3" fill="#fff" stroke="#000" stroke-width="3.6"/>
<path transform="translate(2464,954.1) scale(78)" d="M0.373 0 L0.285 0 L0.285 -0.560 C0.264 -0.540 0.236 -0.520 0.203 -0.500 C0.170 -0.480 0.140 -0.465 0.109 -0.446 L0.109 -0.531 C0.152 -0.551 0.199 -0.579 0.250 -0.616 C0.300 -0.653 0.330 -0.690 0.341 -0.716 L0.373 -0.716 Z" fill="#000"/>
<text x="2507.4" y="954.1" font-size="78" font-family="Liberation Sans" fill="#000">0</text>
<circle cx="2905.6" cy="971.5" r="62.3" fill="#84ff00" stroke="#000" stroke-width="3.6"/>
<path transform="translate(2862.2,999.4) scale(78)" d="M0.373 0 L0.285 0 L0.285 -0.560 C0.264 -0.540 0.236 -0.520 0.203 -0.500 C0.170 -0.480 0.140 -0.465 0.109 -0.446 L0.109 -0.531 C0.152 -0.551 0.199 -0.579 0.250 -0.616 C0.300 -0.653 0.330 -0.690 0.341 -0.716 L0.373 -0.716 Z" fill="#000"/>
<path transform="translate(2905.6,999.4) scale(78)" d="M0.373 0 L0.285 0 L0.285 -0.560 C0.264 -0.540 0.236 -0.520 0.203 -0.500 C0.170 -0.480 0.140 -0.465 0.109 -0.446 L0.109 -0.531 C0.152 -0.551 0.199 -0.579 0.250 -0.616 C0.300 -0.653 0.330 -0.690 0.341 -0.716 L0.373 -0.716 Z" fill="#000"/>
<circle cx="2536.6" cy="1097.3" r="62.3" fill="#fff" stroke="#000" stroke-width="3.6"/>
<path transform="translate(2493.2,1125.2) scale(78)" d="M0.373 0 L0.285 0 L0.285 -0.560 C0.264 -0.540 0.236 -0.520 0.203 -0.500 C0.170 -0.480 0.140 -0.465 0.109 -0.446 L0.109 -0.531 C0.152 -0.551 0.199 -0.579 0.250 -0.616 C0.300 -0.653 0.330 -0.690 0.341 -0.716 L0.373 -0.716 Z" fill="#000"/>
<text x="2536.6" y="1125.2" font-size="78" font-family="Liberation Sans" fill="#000">3</text>
<circle cx="2536.6" cy="1224.7" r="62.3" fill="#fff" stroke="#000" stroke-width="3.6"/>
<path transform="translate(2493.2,1252.6) scale(78)" d="M0.373 0 L0.285 0 L0.285 -0.560 C0.264 -0.540 0.236 -0.520 0.203 -0.500 C0.170 -0.480 0.140 -0.465 0.109 -0.446 L0.109 -0.531 C0.152 -0.551 0.199 -0.579 0.250 -0.616 C0.300 -0.653 0.330 -0.690 0.341 -0.716 L0.373 -0.716 Z" fill="#000"/>
<text x="2536.6" y="1252.6" font-size="78" font-family="Liberation Sans" fill="#000">4</text>
<circle cx="2425.9" cy="1595.7" r="62.3" fill="#fff" stroke="#000" stroke-width="3.6"/>
<text x="2404.2" y="1623.6" font-size="78" font-family="Liberation Sans" fill="#000">8</text>
<circle cx="2538.1" cy="1747.3" r="62.3" fill="#fff" stroke="#000" stroke-width="3.6"/>
<path transform="translate(2494.7,1775.2) scale(78)" d="M0.373 0 L0.285 0 L0.285 -0.560 C0.264 -0.540 0.236 -0.520 0.203 -0.500 C0.170 -0.480 0.140 -0.465 0.109 -0.446 L0.109 -0.531 C0.152 -0.551 0.199 -0.579 0.250 -0.616 C0.300 -0.653 0.330 -0.690 0.341 -0.716 L0.373 -0.716 Z" fill="#000"/>
<text x="2538.1" y="1775.2" font-size="78" font-family="Liberation Sans" fill="#000">7</text>
<circle cx="2286.6" cy="1914.9" r="62.3" fill="#fff" stroke="#000" stroke-width="3.6"/>
<path transform="translate(2243.2,1942.8) scale(78)" d="M0.373 0 L0.285 0 L0.285 -0.560 C0.264 -0.540 0.236 -0.520 0.203 -0.500 C0.170 -0.480 0.140 -0.465 0.109 -0.446 L0.109 -0.531 C0.152 -0.551 0.199 -0.579 0.250 -0.616 C0.300 -0.653 0.330 -0.690 0.341 -0.716 L0.373 -0.716 Z" fill="#000"/>
<text x="2286.6" y="1942.8" font-size="78" font-family="Liberation Sans" fill="#000">8</text>
<circle cx="2289.1" cy="2182.7" r="62.3" fill="#fff" stroke="#000" stroke-width="3.6"/>
<text x="2245.7" y="2210.6" font-size="78" font-family="Liberation Sans" fill="#000">2</text>
<text x="2289.1" y="2210.6" font-size="78" font-family="Liberation Sans" fill="#000">0</text>
<circle cx="2864" cy="2633.3" r="62.3" fill="#fff" stroke="#000" stroke-width="3.6"/>
<path transform="translate(2820.6,2661.2) scale(78)" d="M0.373 0 L0.285 0 L0.285 -0.560 C0.264 -0.540 0.236 -0.520 0.203 -0.500 C0.170 -0.480 0.140 -0.465 0.109 -0.446 L0.109 -0.531 C0.152 -0.551 0.199 -0.579 0.250 -0.616 C0.300 -0.653 0.330 -0.690 0.341 -0.716 L0.373 -0.716 Z" fill="#000"/>
<text x="2864" y="2661.2" font-size="78" font-family="Liberation Sans" fill="#000">8</text>
<circle cx="2876.4" cy="3236.8" r="62.3" fill="#fff" stroke="#000" stroke-width="3.6"/>
<text x="2833" y="3264.7" font-size="78" font-family="Liberation Sans" fill="#000">2</text>
<path transform="translate(2876.4,3264.7) scale(78)" d="M0.373 0 L0.285 0 L0.285 -0.560 C0.264 -0.540 0.236 -0.520 0.203 -0.500 C0.170 -0.480 0.140 -0.465 0.109 -0.446 L0.109 -0.531 C0.152 -0.551 0.199 -0.579 0.250 -0.616 C0.300 -0.653 0.330 -0.690 0.341 -0.716 L0.373 -0.716 Z" fill="#000"/>
<circle cx="3521.7" cy="460.1" r="62.3" fill="#fff" stroke="#000" stroke-width="3.6"/>
<path transform="translate(3500,488) scale(78)" d="M0.373 0 L0.285 0 L0.285 -0.560 C0.264 -0.540 0.236 -0.520 0.203 -0.500 C0.170 -0.480 0.140 -0.465 0.109 -0.446 L0.109 -0.531 C0.152 -0.551 0.199 -0.579 0.250 -0.616 C0.300 -0.653 0.330 -0.690 0.341 -0.716 L0.373 -0.716 Z" fill="#000"/>
<circle cx="3529.4" cy="1180.7" r="62.3" fill="#fff" stroke="#000" stroke-width="3.6"/>
<text x="3507.7" y="1208.6" font-size="78" font-family="Liberation Sans" fill="#000">2</text>
<circle cx="3599.8" cy="2038.8" r="62.3" fill="#fff" stroke="#000" stroke-width="3.6"/>
<text x="3578.1" y="2066.7" font-size="78" font-family="Liberation Sans" fill="#000">6</text>
<circle cx="3727.5" cy="2040.1" r="62.3" fill="#fff" stroke="#000" stroke-width="3.6"/>
<text x="3705.8" y="2068" font-size="78" font-family="Liberation Sans" fill="#000">7</text>
<circle cx="3727.5" cy="2238.8" r="62.3" fill="#84ff00" stroke="#000" stroke-width="3.6"/>
<text x="3705.8" y="2266.7" font-size="78" font-family="Liberation Sans" fill="#000">8</text>
<circle cx="3727.5" cy="2388.6" r="62.3" fill="#fff" stroke="#000" stroke-width="3.6"/>
<text x="3705.8" y="2416.5" font-size="78" font-family="Liberation Sans" fill="#000">9</text>
<circle cx="3745" cy="2614.4" r="62.3" fill="#fff" stroke="#000" stroke-width="3.6"/>
<path transform="translate(3701.6,2642.3) scale(78)" d="M0.373 0 L0.285 0 L0.285 -0.560 C0.264 -0.540 0.236 -0.520 0.203 -0.500 C0.170 -0.480 0.140 -0.465 0.109 -0.446 L0.109 -0.531 C0.152 -0.551 0.199 -0.579 0.250 -0.616 C0.300 -0.653 0.330 -0.690 0.341 -0.716 L0.373 -0.716 Z" fill="#000"/>
<text x="3745" y="2642.3" font-size="78" font-family="Liberation Sans" fill="#000">0</text>
<circle cx="4239.3" cy="2661.5" r="62.3" fill="#84ff00" stroke="#000" stroke-width="3.6"/>
<path transform="translate(4195.9,2689.4) scale(78)" d="M0.373 0 L0.285 0 L0.285 -0.560 C0.264 -0.540 0.236 -0.520 0.203 -0.500 C0.170 -0.480 0.140 -0.465 0.109 -0.446 L0.109 -0.531 C0.152 -0.551 0.199 -0.579 0.250 -0.616 C0.300 -0.653 0.330 -0.690 0.341 -0.716 L0.373 -0.716 Z" fill="#000"/>
<path transform="translate(4239.3,2689.4) scale(78)" d="M0.373 0 L0.285 0 L0.285 -0.560 C0.264 -0.540 0.236 -0.520 0.203 -0.500 C0.170 -0.480 0.140 -0.465 0.109 -0.446 L0.109 -0.531 C0.152 -0.551 0.199 -0.579 0.250 -0.616 C0.300 -0.653 0.330 -0.690 0.341 -0.716 L0.373 -0.716 Z" fill="#000"/>
<circle cx="3795.2" cy="2790" r="62.3" fill="#fff" stroke="#000" stroke-width="3.6"/>
<path transform="translate(3751.8,2817.9) scale(78)" d="M0.373 0 L0.285 0 L0.285 -0.560 C0.264 -0.540 0.236 -0.520 0.203 -0.500 C0.170 -0.480 0.140 -0.465 0.109 -0.446 L0.109 -0.531 C0.152 -0.551 0.199 -0.579 0.250 -0.616 C0.300 -0.653 0.330 -0.690 0.341 -0.716 L0.373 -0.716 Z" fill="#000"/>
<text x="3795.2" y="2817.9" font-size="78" font-family="Liberation Sans" fill="#000">3</text>
<circle cx="3795.2" cy="2916.3" r="62.3" fill="#fff" stroke="#000" stroke-width="3.6"/>
<path transform="translate(3751.8,2944.2) scale(78)" d="M0.373 0 L0.285 0 L0.285 -0.560 C0.264 -0.540 0.236 -0.520 0.203 -0.500 C0.170 -0.480 0.140 -0.465 0.109 -0.446 L0.109 -0.531 C0.152 -0.551 0.199 -0.579 0.250 -0.616 C0.300 -0.653 0.330 -0.690 0.341 -0.716 L0.373 -0.716 Z" fill="#000"/>
<text x="3795.2" y="2944.2" font-size="78" font-family="Liberation Sans" fill="#000">4</text>
<circle cx="3684.6" cy="3288.4" r="62.3" fill="#fff" stroke="#000" stroke-width="3.6"/>
<text x="3662.9" y="3316.3" font-size="78" font-family="Liberation Sans" fill="#000">8</text>
<circle cx="3750.9" cy="3462.5" r="62.3" fill="#fff" stroke="#000" stroke-width="3.6"/>
<path transform="translate(3707.5,3490.4) scale(78)" d="M0.373 0 L0.285 0 L0.285 -0.560 C0.264 -0.540 0.236 -0.520 0.203 -0.500 C0.170 -0.480 0.140 -0.465 0.109 -0.446 L0.109 -0.531 C0.152 -0.551 0.199 -0.579 0.250 -0.616 C0.300 -0.653 0.330 -0.690 0.341 -0.716 L0.373 -0.716 Z" fill="#000"/>
<text x="3750.9" y="3490.4" font-size="78" font-family="Liberation Sans" fill="#000">7</text>
<circle cx="3262.7" cy="3279.5" r="62.3" fill="#00ffff" stroke="#000" stroke-width="3.6"/>
<path transform="translate(3219.3,3307.4) scale(78)" d="M0.373 0 L0.285 0 L0.285 -0.560 C0.264 -0.540 0.236 -0.520 0.203 -0.500 C0.170 -0.480 0.140 -0.465 0.109 -0.446 L0.109 -0.531 C0.152 -0.551 0.199 -0.579 0.250 -0.616 C0.300 -0.653 0.330 -0.690 0.341 -0.716 L0.373 -0.716 Z" fill="#000"/>
<text x="3262.7" y="3307.4" font-size="78" font-family="Liberation Sans" fill="#000">2</text>
<circle cx="3348" cy="3394.3" r="62.3" fill="#fff" stroke="#000" stroke-width="3.6"/>
<path transform="translate(3304.6,3422.2) scale(78)" d="M0.373 0 L0.285 0 L0.285 -0.560 C0.264 -0.540 0.236 -0.520 0.203 -0.500 C0.170 -0.480 0.140 -0.465 0.109 -0.446 L0.109 -0.531 C0.152 -0.551 0.199 -0.579 0.250 -0.616 C0.300 -0.653 0.330 -0.690 0.341 -0.716 L0.373 -0.716 Z" fill="#000"/>
<text x="3348" y="3422.2" font-size="78" font-family="Liberation Sans" fill="#000">6</text>
<circle cx="3453.8" cy="3496.7" r="62.3" fill="#fff" stroke="#000" stroke-width="3.6"/>
<text x="3432.1" y="3524.6" font-size="78" font-family="Liberation Sans" fill="#000">8</text>
<circle cx="4179" cy="3442" r="62.3" fill="#fff" stroke="#000" stroke-width="3.6"/>
<path transform="translate(4135.6,3469.9) scale(78)" d="M0.373 0 L0.285 0 L0.285 -0.560 C0.264 -0.540 0.236 -0.520 0.203 -0.500 C0.170 -0.480 0.140 -0.465 0.109 -0.446 L0.109 -0.531 C0.152 -0.551 0.199 -0.579 0.250 -0.616 C0.300 -0.653 0.330 -0.690 0.341 -0.716 L0.373 -0.716 Z" fill="#000"/>
<text x="4179" y="3469.9" font-size="78" font-family="Liberation Sans" fill="#000">8</text>
<circle cx="4179" cy="3577.2" r="62.3" fill="#fff" stroke="#000" stroke-width="3.6"/>
<path transform="translate(4135.6,3605.1) scale(78)" d="M0.373 0 L0.285 0 L0.285 -0.560 C0.264 -0.540 0.236 -0.520 0.203 -0.500 C0.170 -0.480 0.140 -0.465 0.109 -0.446 L0.109 -0.531 C0.152 -0.551 0.199 -0.579 0.250 -0.616 C0.300 -0.653 0.330 -0.690 0.341 -0.716 L0.373 -0.716 Z" fill="#000"/>
<text x="4179" y="3605.1" font-size="78" font-family="Liberation Sans" fill="#000">9</text>
<circle cx="4179" cy="3710.4" r="62.3" fill="#00ffff" stroke="#000" stroke-width="3.6"/>
<path transform="translate(4135.6,3738.3) scale(78)" d="M0.373 0 L0.285 0 L0.285 -0.560 C0.264 -0.540 0.236 -0.520 0.203 -0.500 C0.170 -0.480 0.140 -0.465 0.109 -0.446 L0.109 -0.531 C0.152 -0.551 0.199 -0.579 0.250 -0.616 C0.300 -0.653 0.330 -0.690 0.341 -0.716 L0.373 -0.716 Z" fill="#000"/>
<text x="4179" y="3738.3" font-size="78" font-family="Liberation Sans" fill="#000">2</text>
</svg></body></html>
